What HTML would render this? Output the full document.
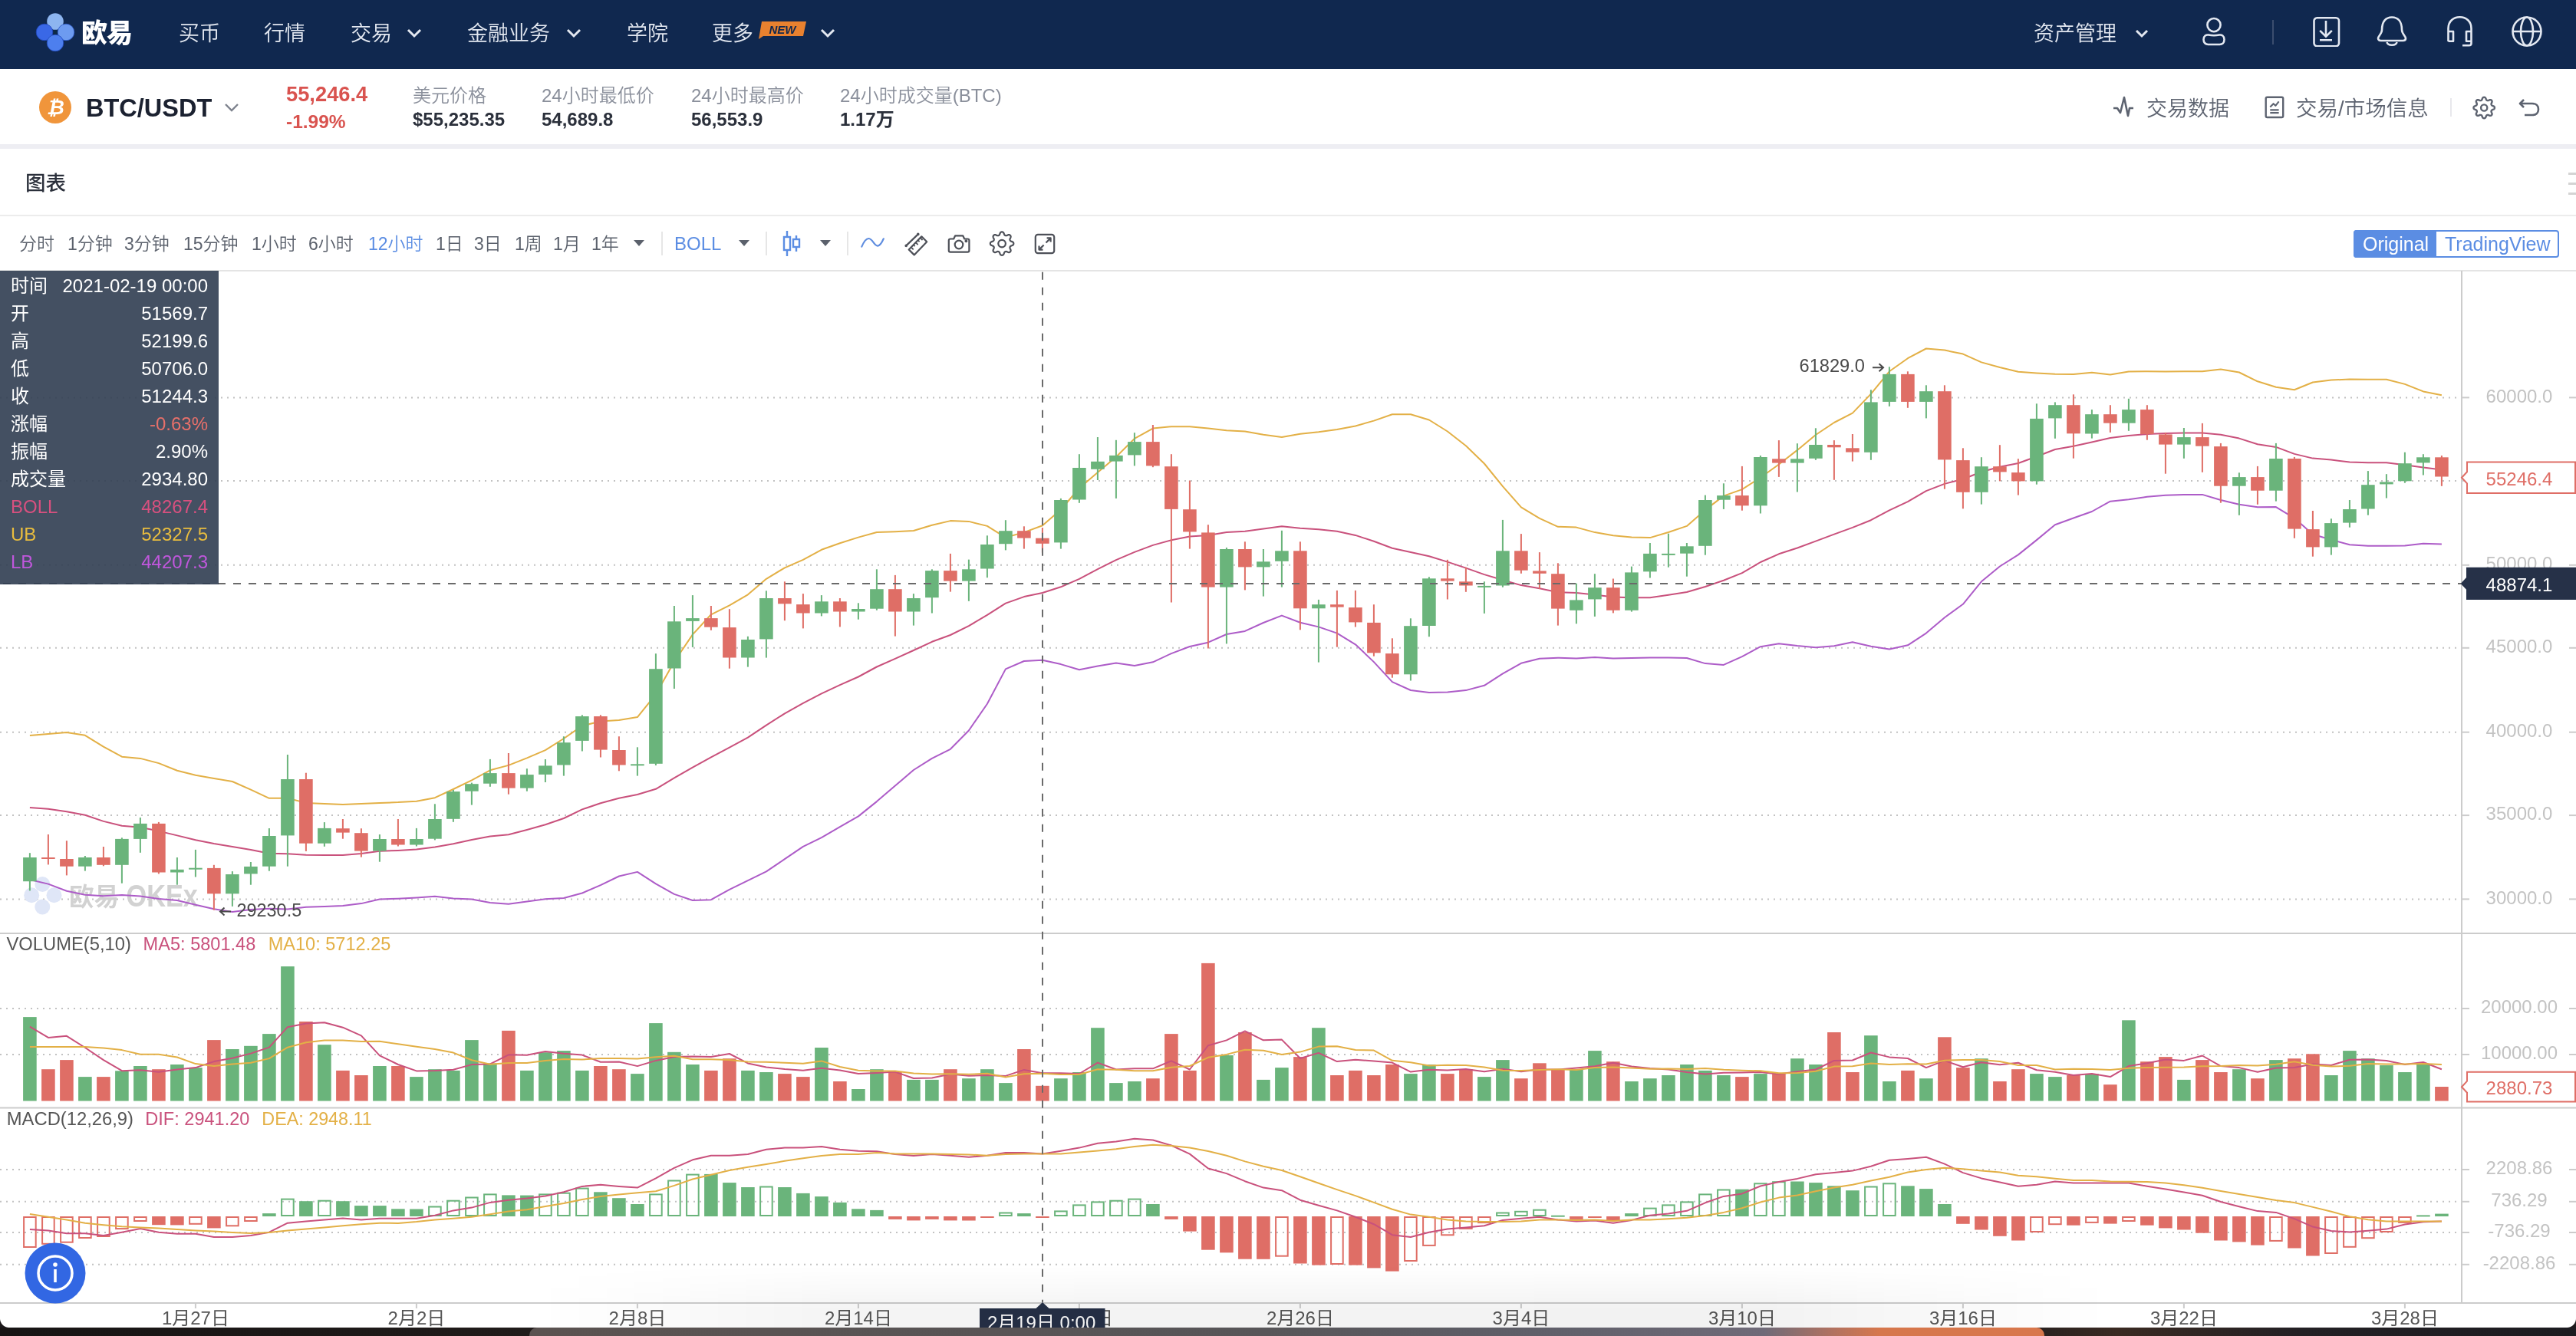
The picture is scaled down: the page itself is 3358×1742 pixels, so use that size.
<!DOCTYPE html>
<html lang="zh-CN">
<head>
<meta charset="utf-8">
<title>BTC/USDT 图表 - 欧易</title>
<style>
*{margin:0;padding:0;box-sizing:border-box}
html,body{width:3358px;height:1742px;overflow:hidden;background:#fff}
body{will-change:transform;position:relative;font-family:"Liberation Sans","Noto Sans CJK SC",sans-serif;color:#333}
.a{position:absolute;white-space:nowrap}
#nav{position:absolute;left:0;top:0;width:3358px;height:90px;background:#10284f}
.nv{position:absolute;top:25.5px;font-size:27px;line-height:36px;color:#e3e8f1;font-weight:350}
.chev{position:absolute}
#tick{position:absolute;left:0;top:90px;width:3358px;height:98px;background:#fff}
#sep{position:absolute;left:0;top:188px;width:3358px;height:6px;background:#eeeef3}
.lbl{font-size:24px;line-height:28px;color:#8a8f9b;font-weight:350}
.val{font-size:24px;line-height:28px;color:#2b303b;font-weight:bold}
.tb{position:absolute;top:302px;font-size:23px;line-height:32px;color:#5b616c;font-weight:350}
#info{position:absolute;left:0;top:353px;width:285px;height:409px;background:rgba(48,61,81,0.9)}
.ir{position:absolute;left:14px;width:257px;font-size:24px;line-height:28px;color:#fff}
.ir span{position:absolute;right:0;top:0}
#chart{position:absolute;left:0;top:0}
@media (max-width:2000px){html{zoom:0.5}}
</style>
</head>
<body>
<!-- top navigation -->
<div id="nav">
  <svg class="a" style="left:44px;top:14px" width="56" height="62" viewBox="0 0 56 62">
    <circle cx="28" cy="14" r="10.8" fill="#8db5f0"/>
    <circle cx="14" cy="28" r="10.8" fill="#3a68e6" stroke="#1d45b8" stroke-width="0.8"/>
    <circle cx="42" cy="28" r="10.8" fill="#6d9bf0" stroke="#2a55c4" stroke-width="0.8"/>
    <circle cx="28" cy="42" r="10.8" fill="#4d7fee" stroke="#1d45b8" stroke-width="0.8"/>
    <rect x="25.8" y="25.8" width="4.4" height="4.4" fill="#0d2a44"/>
  </svg>
  <div class="a" style="left:106px;top:19px;font-size:34px;line-height:48px;font-weight:900;color:#fff;letter-spacing:-1px">欧易</div>
  <div class="nv" style="left:233px">买币</div>
  <div class="nv" style="left:344px">行情</div>
  <div class="nv" style="left:457px">交易</div>
  <svg class="chev" style="left:529px;top:36px" width="22" height="14" viewBox="0 0 22 14"><path d="M3 3 L11 11 L19 3" fill="none" stroke="#e3e8f1" stroke-width="3"/></svg>
  <div class="nv" style="left:609px">金融业务</div>
  <svg class="chev" style="left:737px;top:36px" width="22" height="14" viewBox="0 0 22 14"><path d="M3 3 L11 11 L19 3" fill="none" stroke="#e3e8f1" stroke-width="3"/></svg>
  <div class="nv" style="left:817px">学院</div>
  <div class="nv" style="left:928px">更多</div>
  <svg class="a" style="left:987px;top:27px" width="66" height="25" viewBox="0 0 66 25">
    <path d="M6 1 H64 L60 20 H8 L2 24 Z" fill="#e8812f"/>
    <text x="33" y="17" text-anchor="middle" font-family="Liberation Sans, sans-serif" font-size="15" font-weight="bold" font-style="italic" fill="#10284f">NEW</text>
  </svg>
  <svg class="chev" style="left:1068px;top:36px" width="22" height="14" viewBox="0 0 22 14"><path d="M3 3 L11 11 L19 3" fill="none" stroke="#e3e8f1" stroke-width="3"/></svg>

  <div class="nv" style="left:2651px">资产管理</div>
  <svg class="chev" style="left:2783px;top:38px" width="18" height="12" viewBox="0 0 18 12"><path d="M2 2 L9 9 L16 2" fill="none" stroke="#e3e8f1" stroke-width="3"/></svg>
  <!-- user -->
  <svg class="a" style="left:2868px;top:22px" width="36" height="40" viewBox="0 0 36 40" fill="none" stroke="#e3e8f1" stroke-width="2.6">
    <circle cx="18" cy="10.6" r="8.6"/>
    <path d="M4.5 29.5 C4.5 24.5 8 23 11 23.6 C15 24.4 21 24.4 25 23.6 C28 23 31.5 24.5 31.5 29.5 C31.5 33.5 29 36 25.5 36 H10.5 C7 36 4.5 33.5 4.5 29.5 Z"/>
  </svg>
  <div class="a" style="left:2962px;top:26px;width:2px;height:32px;background:#3b4d6e"></div>
  <!-- download -->
  <svg class="a" style="left:3014px;top:21px" width="38" height="40" viewBox="0 0 38 40" fill="none" stroke="#e3e8f1" stroke-width="2.6">
    <rect x="2.5" y="2.3" width="32.5" height="37" rx="4"/>
    <path d="M18 6 V26.5 M10.2 18.9 L18 26.6 L25.8 18.9 M10 31.3 H26"/>
  </svg>
  <!-- bell -->
  <svg class="a" style="left:3096px;top:19px" width="44" height="44" viewBox="0 0 44 44" fill="none" stroke="#e3e8f1" stroke-width="2.6" stroke-linejoin="round">
    <path d="M9 20 C9 9 14 3.5 22 3.5 C30 3.5 35 9 35 20 C35 25 40 28 40 31 C40 33 38.5 34 36.5 34 H7.5 C5.5 34 4 33 4 31 C4 28 9 25 9 20 Z"/>
    <path d="M15.5 36 C16.5 41 27.5 41 28.5 36"/>
  </svg>
  <!-- headset -->
  <svg class="a" style="left:3186px;top:19px" width="42" height="44" viewBox="0 0 42 44" fill="none" stroke="#e3e8f1" stroke-width="2.6" stroke-linejoin="round">
    <path d="M5.5 35 V18 C5.5 9 12 3.3 20.5 3.3 C29 3.3 35.5 9 35.5 18 V37.5 C35.5 39.3 34.3 40.3 32.5 40.3 H24"/>
    <path d="M5.5 22 H12 V34.7 H5.5 M35.5 22 H29 V34.7 H35.5"/>
  </svg>
  <!-- globe -->
  <svg class="a" style="left:3273px;top:20px" width="42" height="42" viewBox="0 0 42 42" fill="none" stroke="#e3e8f1" stroke-width="2.6">
    <circle cx="21" cy="21" r="18.5"/>
    <ellipse cx="21" cy="21" rx="8" ry="18.5"/>
    <path d="M2.5 21 H39.5"/>
  </svg>
</div>

<!-- ticker bar -->
<div id="tick">
  <svg class="a" style="left:50px;top:28px" width="44" height="44" viewBox="0 0 44 44">
    <circle cx="22" cy="22" r="21" fill="#f0953b"/>
    <text x="22.5" y="31" text-anchor="middle" font-family="Liberation Sans, sans-serif" font-size="26" font-weight="bold" font-style="italic" fill="#fff">₿</text>
  </svg>
  <div class="a" style="left:112px;top:31px;font-size:32.5px;line-height:40px;font-weight:bold;color:#1b2130">BTC/USDT</div>
  <svg class="a" style="left:291px;top:43px" width="22" height="14" viewBox="0 0 22 14"><path d="M3 3 L11 11 L19 3" fill="none" stroke="#7d828d" stroke-width="2.4"/></svg>
  <div class="a" style="left:373px;top:18px;font-size:27.3px;line-height:30px;font-weight:bold;color:#d9534f">55,246.4</div>
  <div class="a" style="left:373px;top:55px;font-size:24.5px;line-height:28px;font-weight:bold;color:#d9534f">-1.99%</div>
  <div class="a lbl" style="left:538px;top:21px">美元价格</div>
  <div class="a val" style="left:538px;top:52px">$55,235.35</div>
  <div class="a lbl" style="left:706px;top:21px">24小时最低价</div>
  <div class="a val" style="left:706px;top:52px">54,689.8</div>
  <div class="a lbl" style="left:901px;top:21px">24小时最高价</div>
  <div class="a val" style="left:901px;top:52px">56,553.9</div>
  <div class="a lbl" style="left:1095px;top:21px">24小时成交量(BTC)</div>
  <div class="a val" style="left:1095px;top:52px">1.17万</div>

  <svg class="a" style="left:2754px;top:35px" width="28" height="28" viewBox="0 0 28 28" fill="none" stroke="#5d6370" stroke-width="2.6" stroke-linejoin="round"><path d="M1 16 H6 L10 22 L15 2 L20 26 L22 16 H27"/></svg>
  <div class="a" style="left:2798px;top:36px;font-size:27px;line-height:32px;color:#5d6370;font-weight:350">交易数据</div>

  <svg class="a" style="left:2900px;top:0" width="420" height="98" viewBox="2900 90 420 98" fill="none" stroke="#5d6370" stroke-width="2.4" stroke-linejoin="round">
    <rect x="2953.7" y="126.8" width="22.5" height="26.2" rx="1.8"/>
    <path d="M2959.3,139.6 L2963.6,135.2 L2966.3,137.8 L2970.6,132.4 M2959.3,143.4 H2970.6 M2959.3,147.1 H2970.6" stroke-width="2.1"/>
    <path d="M3247.72,144.44 L3247.62,144.70 L3247.56,144.96 L3247.53,145.25 L3247.55,145.58 L3247.64,145.95 L3247.81,146.39 L3248.05,146.90 L3248.30,147.44 L3248.49,147.98 L3248.59,148.47 L3248.58,148.91 L3248.49,149.29 L3248.33,149.62 L3248.13,149.92 L3247.89,150.19 L3247.62,150.43 L3247.32,150.63 L3246.99,150.79 L3246.61,150.88 L3246.17,150.89 L3245.68,150.79 L3245.14,150.60 L3244.60,150.35 L3244.09,150.11 L3243.65,149.94 L3243.28,149.85 L3242.95,149.83 L3242.66,149.86 L3242.40,149.92 L3242.14,150.02 L3241.90,150.13 L3241.66,150.28 L3241.44,150.46 L3241.22,150.70 L3241.02,151.03 L3240.83,151.47 L3240.64,151.99 L3240.43,152.55 L3240.19,153.07 L3239.91,153.48 L3239.60,153.78 L3239.26,153.99 L3238.91,154.11 L3238.56,154.18 L3238.20,154.20 L3237.84,154.18 L3237.49,154.11 L3237.14,153.99 L3236.80,153.78 L3236.49,153.48 L3236.21,153.07 L3235.97,152.55 L3235.76,151.99 L3235.57,151.47 L3235.38,151.03 L3235.18,150.70 L3234.96,150.46 L3234.74,150.28 L3234.50,150.13 L3234.26,150.02 L3234.00,149.92 L3233.74,149.86 L3233.45,149.83 L3233.12,149.85 L3232.75,149.94 L3232.31,150.11 L3231.80,150.35 L3231.26,150.60 L3230.72,150.79 L3230.23,150.89 L3229.79,150.88 L3229.41,150.79 L3229.08,150.63 L3228.78,150.43 L3228.51,150.19 L3228.27,149.92 L3228.07,149.62 L3227.91,149.29 L3227.82,148.91 L3227.81,148.47 L3227.91,147.98 L3228.10,147.44 L3228.35,146.90 L3228.59,146.39 L3228.76,145.95 L3228.85,145.58 L3228.87,145.25 L3228.84,144.96 L3228.78,144.70 L3228.68,144.44 L3228.57,144.20 L3228.42,143.96 L3228.24,143.74 L3228.00,143.52 L3227.67,143.32 L3227.23,143.13 L3226.71,142.94 L3226.15,142.73 L3225.63,142.49 L3225.22,142.21 L3224.92,141.90 L3224.71,141.56 L3224.59,141.21 L3224.52,140.86 L3224.50,140.50 L3224.52,140.14 L3224.59,139.79 L3224.71,139.44 L3224.92,139.10 L3225.22,138.79 L3225.63,138.51 L3226.15,138.27 L3226.71,138.06 L3227.23,137.87 L3227.67,137.68 L3228.00,137.48 L3228.24,137.26 L3228.42,137.04 L3228.57,136.80 L3228.68,136.56 L3228.78,136.30 L3228.84,136.04 L3228.87,135.75 L3228.85,135.42 L3228.76,135.05 L3228.59,134.61 L3228.35,134.10 L3228.10,133.56 L3227.91,133.02 L3227.81,132.53 L3227.82,132.09 L3227.91,131.71 L3228.07,131.38 L3228.27,131.08 L3228.51,130.81 L3228.78,130.57 L3229.08,130.37 L3229.41,130.21 L3229.79,130.12 L3230.23,130.11 L3230.72,130.21 L3231.26,130.40 L3231.80,130.65 L3232.31,130.89 L3232.75,131.06 L3233.12,131.15 L3233.45,131.17 L3233.74,131.14 L3234.00,131.08 L3234.26,130.98 L3234.50,130.87 L3234.74,130.72 L3234.96,130.54 L3235.18,130.30 L3235.38,129.97 L3235.57,129.53 L3235.76,129.01 L3235.97,128.45 L3236.21,127.93 L3236.49,127.52 L3236.80,127.22 L3237.14,127.01 L3237.49,126.89 L3237.84,126.82 L3238.20,126.80 L3238.56,126.82 L3238.91,126.89 L3239.26,127.01 L3239.60,127.22 L3239.91,127.52 L3240.19,127.93 L3240.43,128.45 L3240.64,129.01 L3240.83,129.53 L3241.02,129.97 L3241.22,130.30 L3241.44,130.54 L3241.66,130.72 L3241.90,130.87 L3242.14,130.98 L3242.40,131.08 L3242.66,131.14 L3242.95,131.17 L3243.28,131.15 L3243.65,131.06 L3244.09,130.89 L3244.60,130.65 L3245.14,130.40 L3245.68,130.21 L3246.17,130.11 L3246.61,130.12 L3246.99,130.21 L3247.32,130.37 L3247.62,130.57 L3247.89,130.81 L3248.13,131.08 L3248.33,131.38 L3248.49,131.71 L3248.58,132.09 L3248.59,132.53 L3248.49,133.02 L3248.30,133.56 L3248.05,134.10 L3247.81,134.61 L3247.64,135.05 L3247.55,135.42 L3247.53,135.75 L3247.56,136.04 L3247.62,136.30 L3247.72,136.56 L3247.83,136.80 L3247.98,137.04 L3248.16,137.26 L3248.40,137.48 L3248.73,137.68 L3249.17,137.87 L3249.69,138.06 L3250.25,138.27 L3250.77,138.51 L3251.18,138.79 L3251.48,139.10 L3251.69,139.44 L3251.81,139.79 L3251.88,140.14 L3251.90,140.50 L3251.88,140.86 L3251.81,141.21 L3251.69,141.56 L3251.48,141.90 L3251.18,142.21 L3250.77,142.49 L3250.25,142.73 L3249.69,142.94 L3249.17,143.13 L3248.73,143.32 L3248.40,143.52 L3248.16,143.74 L3247.98,143.96 L3247.83,144.20 Z"/>
    <circle cx="3238.2" cy="140.5" r="4.1"/>
  </svg>
  <div class="a" style="left:2993px;top:36px;font-size:27.5px;line-height:32px;color:#5d6370;font-weight:350">交易/市场信息</div>
  <div class="a" style="left:3194px;top:38px;width:2px;height:24px;background:#e8e8ec"></div>
  
  <svg class="a" style="left:3283px;top:38px" width="28" height="24" viewBox="0 0 28 24" fill="none" stroke="#5d6370" stroke-width="2.6" stroke-linejoin="round"><path d="M7 2 L2 7 L7 12 M2 7 H18 C23 7 26 10 26 14.5 C26 19 23 22 18 22 H8"/></svg>
</div>
<div id="sep"></div>

<!-- title -->
<div class="a" style="left:33px;top:222px;font-size:26.5px;line-height:34px;color:#2b303b;font-weight:500">图表</div>
<div class="a" style="left:3348px;top:225px;width:10px;height:3px;background:#d4d4d4"></div>
<div class="a" style="left:3348px;top:238px;width:10px;height:3px;background:#d4d4d4"></div>
<div class="a" style="left:3348px;top:251px;width:10px;height:3px;background:#d4d4d4"></div>
<div class="a" style="left:0;top:280px;width:3358px;height:2px;background:#ececec"></div>

<!-- toolbar -->
<div class="tb" style="left:25px">分时</div>
<div class="tb" style="left:88px">1分钟</div>
<div class="tb" style="left:162px">3分钟</div>
<div class="tb" style="left:239px">15分钟</div>
<div class="tb" style="left:328px">1小时</div>
<div class="tb" style="left:402px">6小时</div>
<div class="tb" style="left:480px;color:#5b8de3">12小时</div>
<div class="tb" style="left:568px">1日</div>
<div class="tb" style="left:618px">3日</div>
<div class="tb" style="left:671px">1周</div>
<div class="tb" style="left:721px">1月</div>
<div class="tb" style="left:771px">1年</div>
<svg class="a" style="left:826px;top:313px" width="14" height="9" viewBox="0 0 14 9"><path d="M0 0 H14 L7 8 Z" fill="#5b616c"/></svg>
<div class="a" style="left:862px;top:302px;width:2px;height:31px;background:#e6e6e6"></div>
<div class="tb" style="left:879px;font-size:24px;color:#5b8de3">BOLL</div>
<svg class="a" style="left:963px;top:313px" width="14" height="9" viewBox="0 0 14 9"><path d="M0 0 H14 L7 8 Z" fill="#5b616c"/></svg>
<div class="a" style="left:998px;top:302px;width:2px;height:31px;background:#e6e6e6"></div>
<svg class="a" style="left:1020px;top:301px" width="24" height="33" viewBox="0 0 24 33" fill="none" stroke="#5b8de3" stroke-width="2.4">
  <path d="M6 0 V33 M18 6 V27"/><rect x="2" y="8" width="8" height="17" fill="#fff"/><rect x="14" y="11" width="8" height="10" fill="#fff"/>
</svg>
<svg class="a" style="left:1069px;top:313px" width="14" height="9" viewBox="0 0 14 9"><path d="M0 0 H14 L7 8 Z" fill="#5b616c"/></svg>
<div class="a" style="left:1104px;top:302px;width:2px;height:31px;background:#e6e6e6"></div>
<svg class="a" style="left:0;top:0" width="1400" height="360" viewBox="0 0 1400 360">
  <path d="M1123.3,321.7 C1126.5,314 1129.5,310.8 1132.6,311 C1137.5,311.3 1139.5,320.8 1144.2,320.6 C1147.5,320.5 1149.5,316.5 1151.8,311.3" fill="none" stroke="#5f8ddf" stroke-width="2.2" stroke-linecap="round"/>
  <g fill="none" stroke="#4d5058" stroke-width="2.2" stroke-linejoin="round">
    <path d="M1181.2,320.4 L1196.8,305.4"/>
    <circle cx="1181.2" cy="320.4" r="0.7" fill="#4d5058"/><circle cx="1196.8" cy="305.4" r="0.7" fill="#4d5058"/>
    <path d="M1184.7,325.4 L1191.7,332.4 L1208.2,315.3 L1201.3,308.3 Z"/>
    <path d="M1187.7,322.3 L1190.7,325.3 M1190.7,319.2 L1192.7,321.2 M1193.7,316.2 L1196.6,319.1 M1196.7,313.1 L1198.6,315.1 M1199.6,310.0 L1202.6,313.0" stroke-width="1.8"/>
    <path d="M1239,311.5 H1243.2 L1245.2,307.3 H1255.2 L1257.2,311.5 H1261.3 C1262.6,311.5 1263.4,312.3 1263.4,313.6 V326.6 C1263.4,327.9 1262.6,328.7 1261.3,328.7 H1238.9 C1237.6,328.7 1236.8,327.9 1236.8,326.6 V313.6 C1236.8,312.3 1237.6,311.5 1239,311.5 Z"/>
    <circle cx="1250" cy="319" r="5.3"/>
    <circle cx="1259.4" cy="314.3" r="0.9" fill="#4d5058"/>
    <path d="M1316.63,321.96 L1316.53,322.24 L1316.46,322.54 L1316.43,322.86 L1316.45,323.22 L1316.56,323.64 L1316.75,324.13 L1317.02,324.69 L1317.30,325.29 L1317.51,325.89 L1317.62,326.44 L1317.62,326.92 L1317.51,327.35 L1317.34,327.72 L1317.11,328.05 L1316.85,328.35 L1316.55,328.61 L1316.22,328.84 L1315.85,329.01 L1315.42,329.12 L1314.94,329.12 L1314.39,329.01 L1313.79,328.80 L1313.19,328.52 L1312.63,328.25 L1312.14,328.06 L1311.72,327.95 L1311.36,327.93 L1311.04,327.96 L1310.74,328.03 L1310.46,328.13 L1310.19,328.26 L1309.93,328.42 L1309.68,328.63 L1309.45,328.90 L1309.23,329.26 L1309.02,329.75 L1308.81,330.33 L1308.58,330.96 L1308.31,331.53 L1308.00,332.00 L1307.65,332.34 L1307.28,332.56 L1306.89,332.70 L1306.50,332.78 L1306.10,332.80 L1305.70,332.78 L1305.31,332.70 L1304.92,332.56 L1304.55,332.34 L1304.20,332.00 L1303.89,331.53 L1303.62,330.96 L1303.39,330.33 L1303.18,329.75 L1302.97,329.26 L1302.75,328.90 L1302.52,328.63 L1302.27,328.42 L1302.01,328.26 L1301.74,328.13 L1301.46,328.03 L1301.16,327.96 L1300.84,327.93 L1300.48,327.95 L1300.06,328.06 L1299.57,328.25 L1299.01,328.52 L1298.41,328.80 L1297.81,329.01 L1297.26,329.12 L1296.78,329.12 L1296.35,329.01 L1295.98,328.84 L1295.65,328.61 L1295.35,328.35 L1295.09,328.05 L1294.86,327.72 L1294.69,327.35 L1294.58,326.92 L1294.58,326.44 L1294.69,325.89 L1294.90,325.29 L1295.18,324.69 L1295.45,324.13 L1295.64,323.64 L1295.75,323.22 L1295.77,322.86 L1295.74,322.54 L1295.67,322.24 L1295.57,321.96 L1295.44,321.69 L1295.28,321.43 L1295.07,321.18 L1294.80,320.95 L1294.44,320.73 L1293.95,320.52 L1293.37,320.31 L1292.74,320.08 L1292.17,319.81 L1291.70,319.50 L1291.36,319.15 L1291.14,318.78 L1291.00,318.39 L1290.92,318.00 L1290.90,317.60 L1290.92,317.20 L1291.00,316.81 L1291.14,316.42 L1291.36,316.05 L1291.70,315.70 L1292.17,315.39 L1292.74,315.12 L1293.37,314.89 L1293.95,314.68 L1294.44,314.47 L1294.80,314.25 L1295.07,314.02 L1295.28,313.77 L1295.44,313.51 L1295.57,313.24 L1295.67,312.96 L1295.74,312.66 L1295.77,312.34 L1295.75,311.98 L1295.64,311.56 L1295.45,311.07 L1295.18,310.51 L1294.90,309.91 L1294.69,309.31 L1294.58,308.76 L1294.58,308.28 L1294.69,307.85 L1294.86,307.48 L1295.09,307.15 L1295.35,306.85 L1295.65,306.59 L1295.98,306.36 L1296.35,306.19 L1296.78,306.08 L1297.26,306.08 L1297.81,306.19 L1298.41,306.40 L1299.01,306.68 L1299.57,306.95 L1300.06,307.14 L1300.48,307.25 L1300.84,307.27 L1301.16,307.24 L1301.46,307.17 L1301.74,307.07 L1302.01,306.94 L1302.27,306.78 L1302.52,306.57 L1302.75,306.30 L1302.97,305.94 L1303.18,305.45 L1303.39,304.87 L1303.62,304.24 L1303.89,303.67 L1304.20,303.20 L1304.55,302.86 L1304.92,302.64 L1305.31,302.50 L1305.70,302.42 L1306.10,302.40 L1306.50,302.42 L1306.89,302.50 L1307.28,302.64 L1307.65,302.86 L1308.00,303.20 L1308.31,303.67 L1308.58,304.24 L1308.81,304.87 L1309.02,305.45 L1309.23,305.94 L1309.45,306.30 L1309.68,306.57 L1309.93,306.78 L1310.19,306.94 L1310.46,307.07 L1310.74,307.17 L1311.04,307.24 L1311.36,307.27 L1311.72,307.25 L1312.14,307.14 L1312.63,306.95 L1313.19,306.68 L1313.79,306.40 L1314.39,306.19 L1314.94,306.08 L1315.42,306.08 L1315.85,306.19 L1316.22,306.36 L1316.55,306.59 L1316.85,306.85 L1317.11,307.15 L1317.34,307.48 L1317.51,307.85 L1317.62,308.28 L1317.62,308.76 L1317.51,309.31 L1317.30,309.91 L1317.02,310.51 L1316.75,311.07 L1316.56,311.56 L1316.45,311.98 L1316.43,312.34 L1316.46,312.66 L1316.53,312.96 L1316.63,313.24 L1316.76,313.51 L1316.92,313.77 L1317.13,314.02 L1317.40,314.25 L1317.76,314.47 L1318.25,314.68 L1318.83,314.89 L1319.46,315.12 L1320.03,315.39 L1320.50,315.70 L1320.84,316.05 L1321.06,316.42 L1321.20,316.81 L1321.28,317.20 L1321.30,317.60 L1321.28,318.00 L1321.20,318.39 L1321.06,318.78 L1320.84,319.15 L1320.50,319.50 L1320.03,319.81 L1319.46,320.08 L1318.83,320.31 L1318.25,320.52 L1317.76,320.73 L1317.40,320.95 L1317.13,321.18 L1316.92,321.43 L1316.76,321.69 Z"/>
    <circle cx="1306.1" cy="317.6" r="4.8"/>
    <rect x="1349.8" y="305.8" width="24.4" height="24.4" rx="3.2"/>
    <path d="M1354.5,325.6 L1360.6,319.5 M1363.5,316.6 L1369.6,310.4 M1364.6,310.4 H1369.6 V315.4 M1354.5,320.6 V325.6 H1359.5"/>
  </g>
</svg>
<!-- Original / TradingView -->
<div class="a" style="left:3068px;top:300px;width:268px;height:36px;border:2px solid #5b8de3;border-radius:4px;background:#fff"></div>
<div class="a" style="left:3068px;top:300px;width:108px;height:36px;background:#5b8de3;border-radius:4px 0 0 4px"></div>
<div class="a" style="left:3080px;top:303px;font-size:25px;line-height:30px;color:#fff">Original</div>
<div class="a" style="left:3187px;top:303px;font-size:25px;line-height:30px;color:#5b8de3">TradingView</div>
<div class="a" style="left:0;top:352px;width:3358px;height:2px;background:#e4e4e4"></div>

<svg id="chart" width="3358" height="1742" viewBox="0 0 3358 1742">
<line x1="0" y1="518.4" x2="3205" y2="518.4" stroke="#c2c2c2" stroke-width="2" stroke-dasharray="2 6"/>
<line x1="0" y1="626.9" x2="3205" y2="626.9" stroke="#c2c2c2" stroke-width="2" stroke-dasharray="2 6"/>
<line x1="0" y1="736.8" x2="3205" y2="736.8" stroke="#c2c2c2" stroke-width="2" stroke-dasharray="2 6"/>
<line x1="0" y1="844.8" x2="3205" y2="844.8" stroke="#c2c2c2" stroke-width="2" stroke-dasharray="2 6"/>
<line x1="0" y1="954.7" x2="3205" y2="954.7" stroke="#c2c2c2" stroke-width="2" stroke-dasharray="2 6"/>
<line x1="0" y1="1063.1" x2="3205" y2="1063.1" stroke="#c2c2c2" stroke-width="2" stroke-dasharray="2 6"/>
<line x1="0" y1="1172.4" x2="3205" y2="1172.4" stroke="#c2c2c2" stroke-width="2" stroke-dasharray="2 6"/>
<line x1="0" y1="1315" x2="3205" y2="1315" stroke="#c2c2c2" stroke-width="2" stroke-dasharray="2 6"/>
<line x1="0" y1="1375" x2="3205" y2="1375" stroke="#c2c2c2" stroke-width="2" stroke-dasharray="2 6"/>
<line x1="0" y1="1525" x2="3205" y2="1525" stroke="#c2c2c2" stroke-width="2" stroke-dasharray="2 6"/>
<line x1="0" y1="1566.8" x2="3205" y2="1566.8" stroke="#c2c2c2" stroke-width="2" stroke-dasharray="2 6"/>
<line x1="0" y1="1607" x2="3205" y2="1607" stroke="#c2c2c2" stroke-width="2" stroke-dasharray="2 6"/>
<line x1="0" y1="1648.8" x2="3205" y2="1648.8" stroke="#c2c2c2" stroke-width="2" stroke-dasharray="2 6"/>
<g opacity="1">
<circle cx="55.3" cy="1153" r="10" fill="#dfe6f7"/>
<circle cx="41.2" cy="1167.3" r="10" fill="#dfe6f7"/>
<circle cx="70.5" cy="1167.3" r="10" fill="#dfe6f7"/>
<circle cx="55.3" cy="1182.5" r="10" fill="#dfe6f7"/>
<text x="90" y="1181" font-family='"Liberation Sans", "Noto Sans CJK SC", sans-serif' font-size="33" font-weight="bold" fill="#d2d2d2" textLength="65" lengthAdjust="spacingAndGlyphs">欧易</text>
<text x="164.5" y="1182" font-family='"Liberation Sans", "Noto Sans CJK SC", sans-serif' font-size="40" font-weight="bold" fill="#d2d2d2" textLength="93.4" lengthAdjust="spacingAndGlyphs">OKEx</text>
</g>
<polyline points="38.9,959 62.9,957 86.9,954.9 110.9,958.8 134.9,973.6 158.9,986.7 182.9,988.9 206.9,995.1 230.9,1004.8 254.9,1010.8 278.9,1014.9 302.9,1019 326.9,1029.7 350.9,1040.8 374.9,1040.8 398.9,1046.9 422.9,1047.9 446.9,1048.9 470.9,1047.9 494.9,1046.9 518.9,1046.1 542.9,1044.7 566.9,1040.2 590.9,1029 614.9,1017.3 638.9,1004.3 662.9,997.9 686.9,988.4 710.9,978.1 734.9,963 758.9,946.4 782.9,940.5 806.9,938.9 830.9,935.1 854.9,905.3 878.9,862.8 902.9,827.4 926.9,801.3 950.9,789.4 974.9,775.3 998.9,754.8 1022.9,740.3 1046.9,729.8 1070.9,716.8 1094.9,708.2 1118.9,700.6 1142.9,694 1166.9,693.2 1190.9,692 1214.9,684.8 1238.9,679.1 1262.9,679.9 1286.9,685.9 1310.9,700.8 1334.9,694.1 1358.9,685.3 1382.9,664.5 1406.9,636.5 1430.9,615.9 1454.9,595.7 1478.9,571.9 1502.9,558.6 1526.9,556.2 1550.9,556.3 1574.9,558.4 1598.9,561.2 1622.9,562.4 1646.9,566.8 1670.9,570 1694.9,565.8 1718.9,563.3 1742.9,560 1766.9,555.5 1790.9,548.6 1814.9,540.3 1838.9,540.2 1862.9,547.5 1886.9,562.5 1910.9,581.2 1934.9,604.5 1958.9,634.1 1982.9,661.4 2006.9,675.9 2030.9,686.8 2054.9,687.6 2078.9,694.1 2102.9,698.3 2126.9,700.4 2150.9,701.1 2174.9,694 2198.9,685.9 2222.9,664.9 2246.9,646.6 2270.9,638.1 2294.9,622.7 2318.9,605.5 2342.9,586.9 2366.9,567 2390.9,551 2414.9,538.6 2438.9,513.6 2462.9,484.3 2486.9,467.2 2510.9,454.5 2534.9,456.6 2558.9,461.6 2582.9,472.4 2606.9,479 2630.9,484.7 2654.9,486.4 2678.9,487.8 2702.9,487.9 2726.9,485.8 2750.9,488.4 2774.9,484.6 2798.9,484.3 2822.9,484.5 2846.9,484.2 2870.9,484.2 2894.9,481.5 2918.9,485.5 2942.9,497.3 2966.9,504.7 2990.9,508.2 3014.9,498.5 3038.9,495.5 3062.9,494.6 3086.9,494.8 3110.9,494.8 3134.9,500.9 3158.9,510.4 3182.9,515.2" fill="none" stroke="#e3b046" stroke-width="2" stroke-linejoin="round"/>
<polyline points="38.9,1053 62.9,1054.8 86.9,1058.3 110.9,1062.8 134.9,1070.9 158.9,1076.8 182.9,1078.7 206.9,1083.6 230.9,1089.4 254.9,1095.3 278.9,1100.1 302.9,1104 326.9,1107.9 350.9,1112.8 374.9,1113.2 398.9,1114.8 422.9,1115 446.9,1115 470.9,1113 494.9,1109.7 518.9,1108.9 542.9,1107.6 566.9,1104.5 590.9,1100.2 614.9,1094.9 638.9,1090.6 662.9,1088.3 686.9,1082 710.9,1075.2 734.9,1067 758.9,1055.4 782.9,1047.3 806.9,1040.7 830.9,1036 854.9,1028.8 878.9,1014.4 902.9,1000.7 926.9,987.3 950.9,974.7 974.9,961.7 998.9,945.6 1022.9,930.3 1046.9,916.8 1070.9,904.4 1094.9,893.2 1118.9,882.5 1142.9,869.5 1166.9,858.9 1190.9,848 1214.9,836.8 1238.9,828 1262.9,816.2 1286.9,801.8 1310.9,786.6 1334.9,778.1 1358.9,773 1382.9,765.3 1406.9,754.9 1430.9,742.1 1454.9,730.1 1478.9,719.9 1502.9,710.9 1526.9,704.2 1550.9,699.6 1574.9,698 1598.9,694.1 1622.9,692.7 1646.9,689.4 1670.9,686.3 1694.9,688.8 1718.9,690.3 1742.9,692.8 1766.9,697.9 1790.9,705.8 1814.9,714.7 1838.9,720.1 1862.9,725.2 1886.9,732.6 1910.9,740.6 1934.9,749.1 1958.9,756.3 1982.9,763.1 2006.9,767.3 2030.9,772.3 2054.9,773.1 2078.9,775.6 2102.9,778.5 2126.9,779.2 2150.9,779.3 2174.9,775.8 2198.9,772 2222.9,765 2246.9,756.7 2270.9,747.1 2294.9,733 2318.9,722.3 2342.9,714.5 2366.9,705.6 2390.9,696.6 2414.9,687.9 2438.9,678.2 2462.9,665.4 2486.9,654.2 2510.9,640.1 2534.9,630.9 2558.9,624.7 2582.9,615.3 2606.9,608.8 2630.9,604 2654.9,595.2 2678.9,586 2702.9,581.7 2726.9,576.4 2750.9,571 2774.9,567.9 2798.9,566.1 2822.9,565.1 2846.9,564.6 2870.9,564.5 2894.9,566.8 2918.9,571.6 2942.9,579.2 2966.9,582.9 2990.9,591.9 3014.9,597.6 3038.9,599.6 3062.9,602.4 3086.9,603.2 3110.9,603.3 3134.9,606.2 3158.9,609.6 3182.9,612.4" fill="none" stroke="#c9517c" stroke-width="2" stroke-linejoin="round"/>
<polyline points="38.9,1147 62.9,1152.6 86.9,1161.7 110.9,1166.8 134.9,1168.2 158.9,1166.9 182.9,1168.5 206.9,1172.1 230.9,1174 254.9,1179.8 278.9,1185.3 302.9,1189 326.9,1186.1 350.9,1184.8 374.9,1185.6 398.9,1182.7 422.9,1182.1 446.9,1181.1 470.9,1178.1 494.9,1172.5 518.9,1171.7 542.9,1170.5 566.9,1168.8 590.9,1171.4 614.9,1172.6 638.9,1177 662.9,1178.8 686.9,1175.5 710.9,1172.3 734.9,1171 758.9,1164.5 782.9,1154.1 806.9,1142.5 830.9,1136.9 854.9,1152.4 878.9,1165.9 902.9,1174 926.9,1173.2 950.9,1159.9 974.9,1148.1 998.9,1136.4 1022.9,1120.2 1046.9,1103.8 1070.9,1092.1 1094.9,1078.2 1118.9,1064.4 1142.9,1045.1 1166.9,1024.6 1190.9,1004 1214.9,988.8 1238.9,976.8 1262.9,952.5 1286.9,917.8 1310.9,872.4 1334.9,862 1358.9,860.7 1382.9,866.1 1406.9,873.3 1430.9,868.4 1454.9,864.6 1478.9,867.9 1502.9,863.3 1526.9,852.1 1550.9,843 1574.9,837.7 1598.9,827 1622.9,822.9 1646.9,812 1670.9,802.6 1694.9,811.8 1718.9,817.4 1742.9,825.6 1766.9,840.3 1790.9,863.1 1814.9,889.1 1838.9,900 1862.9,902.9 1886.9,902.6 1910.9,900.1 1934.9,893.8 1958.9,878.4 1982.9,864.8 2006.9,858.7 2030.9,857.7 2054.9,858.6 2078.9,857.1 2102.9,858.6 2126.9,857.9 2150.9,857.6 2174.9,857.6 2198.9,858 2222.9,865.1 2246.9,866.9 2270.9,856.1 2294.9,843.2 2318.9,839.2 2342.9,842.1 2366.9,844.3 2390.9,842.3 2414.9,837.3 2438.9,842.8 2462.9,846.6 2486.9,841.3 2510.9,825.6 2534.9,805.2 2558.9,787.8 2582.9,758.3 2606.9,738.5 2630.9,723.4 2654.9,704.1 2678.9,684.3 2702.9,675.5 2726.9,667 2750.9,653.7 2774.9,651.3 2798.9,647.8 2822.9,645.8 2846.9,645 2870.9,644.9 2894.9,652 2918.9,657.8 2942.9,661.2 2966.9,661.1 2990.9,675.6 3014.9,696.7 3038.9,703.8 3062.9,710.2 3086.9,711.7 3110.9,711.8 3134.9,711.5 3158.9,708.8 3182.9,709.6" fill="none" stroke="#ad5cc8" stroke-width="2" stroke-linejoin="round"/>
<rect x="37.9" y="1112.2" width="2" height="49.2" fill="#6ab47b"/>
<rect x="30.1" y="1118" width="17.6" height="31.2" fill="#6ab47b"/>
<rect x="61.9" y="1088" width="2" height="39.4" fill="#df6e66"/>
<rect x="54.1" y="1118" width="17.6" height="2" fill="#df6e66"/>
<rect x="85.9" y="1096.2" width="2" height="45.2" fill="#df6e66"/>
<rect x="78.1" y="1120" width="17.6" height="9.7" fill="#df6e66"/>
<rect x="109.9" y="1116" width="2" height="19.6" fill="#6ab47b"/>
<rect x="102.1" y="1118" width="17.6" height="11.7" fill="#6ab47b"/>
<rect x="133.9" y="1104" width="2" height="25.3" fill="#df6e66"/>
<rect x="126.1" y="1118" width="17.6" height="9.8" fill="#df6e66"/>
<rect x="157.9" y="1092.3" width="2" height="59.4" fill="#6ab47b"/>
<rect x="150.1" y="1093.9" width="17.6" height="33.9" fill="#6ab47b"/>
<rect x="181.9" y="1066" width="2" height="45.8" fill="#6ab47b"/>
<rect x="174.1" y="1073.9" width="17.6" height="20" fill="#6ab47b"/>
<rect x="205.9" y="1071.9" width="2" height="67.5" fill="#df6e66"/>
<rect x="198.1" y="1073.9" width="17.6" height="63.6" fill="#df6e66"/>
<rect x="229.9" y="1118" width="2" height="35.7" fill="#6ab47b"/>
<rect x="222.1" y="1133.8" width="17.6" height="3.7" fill="#6ab47b"/>
<rect x="253.9" y="1107.9" width="2" height="35.6" fill="#6ab47b"/>
<rect x="246.1" y="1131.7" width="17.6" height="2" fill="#6ab47b"/>
<rect x="277.9" y="1127.8" width="2" height="58.9" fill="#df6e66"/>
<rect x="270.1" y="1131.9" width="17.6" height="33.4" fill="#df6e66"/>
<rect x="301.9" y="1136.1" width="2" height="45.8" fill="#6ab47b"/>
<rect x="294.1" y="1140" width="17.6" height="25.3" fill="#6ab47b"/>
<rect x="325.9" y="1124" width="2" height="29.7" fill="#6ab47b"/>
<rect x="318.1" y="1129.9" width="17.6" height="9.5" fill="#6ab47b"/>
<rect x="349.9" y="1080" width="2" height="55.7" fill="#6ab47b"/>
<rect x="342.1" y="1090" width="17.6" height="39.7" fill="#6ab47b"/>
<rect x="373.9" y="984" width="2" height="145.7" fill="#6ab47b"/>
<rect x="366.1" y="1016" width="17.6" height="73.4" fill="#6ab47b"/>
<rect x="397.9" y="1007.7" width="2" height="102.2" fill="#df6e66"/>
<rect x="390.1" y="1016" width="17.6" height="83.7" fill="#df6e66"/>
<rect x="421.9" y="1072.1" width="2" height="31.7" fill="#6ab47b"/>
<rect x="414.1" y="1079.9" width="17.6" height="19.8" fill="#6ab47b"/>
<rect x="445.9" y="1068" width="2" height="25.7" fill="#df6e66"/>
<rect x="438.1" y="1080.2" width="17.6" height="5.4" fill="#df6e66"/>
<rect x="469.9" y="1080.2" width="2" height="37.4" fill="#df6e66"/>
<rect x="462.1" y="1086.2" width="17.6" height="23.4" fill="#df6e66"/>
<rect x="493.9" y="1088" width="2" height="35.7" fill="#6ab47b"/>
<rect x="486.1" y="1094" width="17.6" height="15.6" fill="#6ab47b"/>
<rect x="517.9" y="1068" width="2" height="35.5" fill="#df6e66"/>
<rect x="510.1" y="1094" width="17.6" height="7.5" fill="#df6e66"/>
<rect x="541.9" y="1079.9" width="2" height="23.6" fill="#6ab47b"/>
<rect x="534.1" y="1094" width="17.6" height="7.5" fill="#6ab47b"/>
<rect x="565.9" y="1048.3" width="2" height="47.1" fill="#6ab47b"/>
<rect x="558.1" y="1068" width="17.6" height="25.7" fill="#6ab47b"/>
<rect x="589.9" y="1030" width="2" height="41.8" fill="#6ab47b"/>
<rect x="582.1" y="1032.1" width="17.6" height="35.7" fill="#6ab47b"/>
<rect x="613.9" y="1020.6" width="2" height="29" fill="#6ab47b"/>
<rect x="606.1" y="1022.2" width="17.6" height="9.5" fill="#6ab47b"/>
<rect x="637.9" y="989.9" width="2" height="35.9" fill="#6ab47b"/>
<rect x="630.1" y="1008.1" width="17.6" height="13.6" fill="#6ab47b"/>
<rect x="661.9" y="982" width="2" height="53.7" fill="#df6e66"/>
<rect x="654.1" y="1008.1" width="17.6" height="19.5" fill="#df6e66"/>
<rect x="685.9" y="1002.2" width="2" height="29.5" fill="#6ab47b"/>
<rect x="678.1" y="1010.1" width="17.6" height="17.5" fill="#6ab47b"/>
<rect x="709.9" y="990" width="2" height="30" fill="#6ab47b"/>
<rect x="702.1" y="998.4" width="17.6" height="11.5" fill="#6ab47b"/>
<rect x="733.9" y="960.2" width="2" height="51.4" fill="#6ab47b"/>
<rect x="726.1" y="968.2" width="17.6" height="29.3" fill="#6ab47b"/>
<rect x="757.9" y="932.3" width="2" height="47.2" fill="#6ab47b"/>
<rect x="750.1" y="934" width="17.6" height="31.9" fill="#6ab47b"/>
<rect x="781.9" y="932.3" width="2" height="55.2" fill="#df6e66"/>
<rect x="774.1" y="934" width="17.6" height="43.6" fill="#df6e66"/>
<rect x="805.9" y="960.2" width="2" height="45.1" fill="#df6e66"/>
<rect x="798.1" y="978" width="17.6" height="19.5" fill="#df6e66"/>
<rect x="829.9" y="974.3" width="2" height="37.3" fill="#6ab47b"/>
<rect x="822.1" y="996.3" width="17.6" height="2" fill="#6ab47b"/>
<rect x="853.9" y="852.2" width="2" height="145.8" fill="#6ab47b"/>
<rect x="846.1" y="872.2" width="17.6" height="123.6" fill="#6ab47b"/>
<rect x="877.9" y="790" width="2" height="108" fill="#6ab47b"/>
<rect x="870.1" y="810.3" width="17.6" height="61.2" fill="#6ab47b"/>
<rect x="901.9" y="776.1" width="2" height="67.8" fill="#6ab47b"/>
<rect x="894.1" y="806.1" width="17.6" height="3.8" fill="#6ab47b"/>
<rect x="925.9" y="790" width="2" height="31.8" fill="#df6e66"/>
<rect x="918.1" y="806.1" width="17.6" height="11.6" fill="#df6e66"/>
<rect x="949.9" y="794.2" width="2" height="77.5" fill="#df6e66"/>
<rect x="942.1" y="818.1" width="17.6" height="39.4" fill="#df6e66"/>
<rect x="973.9" y="829.8" width="2" height="39.8" fill="#6ab47b"/>
<rect x="966.1" y="834" width="17.6" height="23.5" fill="#6ab47b"/>
<rect x="997.9" y="770.3" width="2" height="87.3" fill="#6ab47b"/>
<rect x="990.1" y="780" width="17.6" height="53.4" fill="#6ab47b"/>
<rect x="1021.9" y="758.3" width="2" height="50.9" fill="#df6e66"/>
<rect x="1014.1" y="780" width="17.6" height="7.3" fill="#df6e66"/>
<rect x="1045.9" y="774.1" width="2" height="45.3" fill="#df6e66"/>
<rect x="1038.1" y="788.1" width="17.6" height="11.4" fill="#df6e66"/>
<rect x="1069.9" y="776.1" width="2" height="27.3" fill="#6ab47b"/>
<rect x="1062.1" y="784.3" width="17.6" height="15.2" fill="#6ab47b"/>
<rect x="1093.9" y="780" width="2" height="37.4" fill="#df6e66"/>
<rect x="1086.1" y="784.3" width="17.6" height="13.2" fill="#df6e66"/>
<rect x="1117.9" y="786.3" width="2" height="21.4" fill="#6ab47b"/>
<rect x="1110.1" y="794" width="17.6" height="3.5" fill="#6ab47b"/>
<rect x="1141.9" y="742.3" width="2" height="53.4" fill="#6ab47b"/>
<rect x="1134.1" y="768.2" width="17.6" height="25.5" fill="#6ab47b"/>
<rect x="1165.9" y="749.9" width="2" height="79.7" fill="#df6e66"/>
<rect x="1158.1" y="768.2" width="17.6" height="29.3" fill="#df6e66"/>
<rect x="1189.9" y="774.1" width="2" height="41.5" fill="#6ab47b"/>
<rect x="1182.1" y="780" width="17.6" height="17.5" fill="#6ab47b"/>
<rect x="1213.9" y="742.3" width="2" height="57.2" fill="#6ab47b"/>
<rect x="1206.1" y="744.1" width="17.6" height="35.1" fill="#6ab47b"/>
<rect x="1237.9" y="721.9" width="2" height="49.7" fill="#df6e66"/>
<rect x="1230.1" y="744.1" width="17.6" height="13.5" fill="#df6e66"/>
<rect x="1261.9" y="729.6" width="2" height="54.2" fill="#6ab47b"/>
<rect x="1254.1" y="742.3" width="17.6" height="15.3" fill="#6ab47b"/>
<rect x="1285.9" y="698.3" width="2" height="54.9" fill="#6ab47b"/>
<rect x="1278.1" y="710" width="17.6" height="31.5" fill="#6ab47b"/>
<rect x="1309.9" y="678.2" width="2" height="39.2" fill="#6ab47b"/>
<rect x="1302.1" y="692.2" width="17.6" height="17" fill="#6ab47b"/>
<rect x="1333.9" y="686.3" width="2" height="29.3" fill="#df6e66"/>
<rect x="1326.1" y="692.2" width="17.6" height="9.4" fill="#df6e66"/>
<rect x="1357.9" y="688" width="2" height="32.6" fill="#df6e66"/>
<rect x="1350.1" y="701.7" width="17.6" height="7.1" fill="#df6e66"/>
<rect x="1381.9" y="649.9" width="2" height="65.7" fill="#6ab47b"/>
<rect x="1374.1" y="652" width="17.6" height="55.4" fill="#6ab47b"/>
<rect x="1405.9" y="592.2" width="2" height="63.6" fill="#6ab47b"/>
<rect x="1398.1" y="610" width="17.6" height="41.5" fill="#6ab47b"/>
<rect x="1429.9" y="570" width="2" height="56" fill="#6ab47b"/>
<rect x="1422.1" y="601.8" width="17.6" height="10" fill="#6ab47b"/>
<rect x="1453.9" y="573.8" width="2" height="76.1" fill="#6ab47b"/>
<rect x="1446.1" y="593.9" width="17.6" height="7.7" fill="#6ab47b"/>
<rect x="1477.9" y="564.2" width="2" height="43.2" fill="#6ab47b"/>
<rect x="1470.1" y="576.1" width="17.6" height="17.3" fill="#6ab47b"/>
<rect x="1501.9" y="554" width="2" height="55.2" fill="#df6e66"/>
<rect x="1494.1" y="576.1" width="17.6" height="31.3" fill="#df6e66"/>
<rect x="1525.9" y="592.2" width="2" height="193.3" fill="#df6e66"/>
<rect x="1518.1" y="608.2" width="17.6" height="55.7" fill="#df6e66"/>
<rect x="1549.9" y="626.5" width="2" height="89.1" fill="#df6e66"/>
<rect x="1542.1" y="664.2" width="17.6" height="29.2" fill="#df6e66"/>
<rect x="1573.9" y="684.2" width="2" height="161.3" fill="#df6e66"/>
<rect x="1566.1" y="694.4" width="17.6" height="71.2" fill="#df6e66"/>
<rect x="1597.9" y="714" width="2" height="125.4" fill="#6ab47b"/>
<rect x="1590.1" y="716" width="17.6" height="49.6" fill="#6ab47b"/>
<rect x="1621.9" y="706.3" width="2" height="63.1" fill="#df6e66"/>
<rect x="1614.1" y="716" width="17.6" height="23.4" fill="#df6e66"/>
<rect x="1645.9" y="716" width="2" height="61.6" fill="#6ab47b"/>
<rect x="1638.1" y="732.3" width="17.6" height="7.1" fill="#6ab47b"/>
<rect x="1669.9" y="691.8" width="2" height="73.8" fill="#6ab47b"/>
<rect x="1662.1" y="718.3" width="17.6" height="13.5" fill="#6ab47b"/>
<rect x="1693.9" y="706.3" width="2" height="115" fill="#df6e66"/>
<rect x="1686.1" y="718.3" width="17.6" height="75" fill="#df6e66"/>
<rect x="1717.9" y="781.9" width="2" height="81.7" fill="#6ab47b"/>
<rect x="1710.1" y="788.2" width="17.6" height="5.1" fill="#6ab47b"/>
<rect x="1741.9" y="769.9" width="2" height="73.8" fill="#df6e66"/>
<rect x="1734.1" y="788.2" width="17.6" height="3.4" fill="#df6e66"/>
<rect x="1765.9" y="769.9" width="2" height="47.6" fill="#df6e66"/>
<rect x="1758.1" y="792.1" width="17.6" height="19.3" fill="#df6e66"/>
<rect x="1789.9" y="788.2" width="2" height="67.5" fill="#df6e66"/>
<rect x="1782.1" y="811.9" width="17.6" height="39.4" fill="#df6e66"/>
<rect x="1813.9" y="832.3" width="2" height="51.4" fill="#df6e66"/>
<rect x="1806.1" y="852.1" width="17.6" height="27.2" fill="#df6e66"/>
<rect x="1837.9" y="806.3" width="2" height="81.2" fill="#6ab47b"/>
<rect x="1830.1" y="816.2" width="17.6" height="63.1" fill="#6ab47b"/>
<rect x="1861.9" y="752.3" width="2" height="77.9" fill="#6ab47b"/>
<rect x="1854.1" y="754.3" width="17.6" height="61.7" fill="#6ab47b"/>
<rect x="1885.9" y="729.8" width="2" height="51.7" fill="#df6e66"/>
<rect x="1878.1" y="754.3" width="17.6" height="3.3" fill="#df6e66"/>
<rect x="1909.9" y="739.7" width="2" height="32.1" fill="#df6e66"/>
<rect x="1902.1" y="758.3" width="17.6" height="5.2" fill="#df6e66"/>
<rect x="1933.9" y="758.3" width="2" height="41.6" fill="#6ab47b"/>
<rect x="1926.1" y="763.9" width="17.6" height="2" fill="#6ab47b"/>
<rect x="1957.9" y="677.9" width="2" height="87.8" fill="#6ab47b"/>
<rect x="1950.1" y="718.3" width="17.6" height="45.2" fill="#6ab47b"/>
<rect x="1981.9" y="696.1" width="2" height="51.7" fill="#df6e66"/>
<rect x="1974.1" y="718.3" width="17.6" height="25.4" fill="#df6e66"/>
<rect x="2005.9" y="720.1" width="2" height="47.9" fill="#df6e66"/>
<rect x="1998.1" y="744.4" width="17.6" height="3.4" fill="#df6e66"/>
<rect x="2029.9" y="734.3" width="2" height="81.3" fill="#df6e66"/>
<rect x="2022.1" y="748.2" width="17.6" height="45.4" fill="#df6e66"/>
<rect x="2053.9" y="760.6" width="2" height="52.7" fill="#6ab47b"/>
<rect x="2046.1" y="782.4" width="17.6" height="13.4" fill="#6ab47b"/>
<rect x="2077.9" y="748.2" width="2" height="55.7" fill="#6ab47b"/>
<rect x="2070.1" y="766.2" width="17.6" height="15.2" fill="#6ab47b"/>
<rect x="2101.9" y="754.5" width="2" height="44.9" fill="#df6e66"/>
<rect x="2094.1" y="766.2" width="17.6" height="29.6" fill="#df6e66"/>
<rect x="2125.9" y="738.6" width="2" height="59" fill="#6ab47b"/>
<rect x="2118.1" y="746.4" width="17.6" height="49.4" fill="#6ab47b"/>
<rect x="2149.9" y="708" width="2" height="45.5" fill="#6ab47b"/>
<rect x="2142.1" y="721.9" width="17.6" height="23.4" fill="#6ab47b"/>
<rect x="2173.9" y="695.7" width="2" height="44" fill="#6ab47b"/>
<rect x="2166.1" y="721.9" width="17.6" height="2" fill="#6ab47b"/>
<rect x="2197.9" y="708" width="2" height="43.7" fill="#6ab47b"/>
<rect x="2190.1" y="712.3" width="17.6" height="9.4" fill="#6ab47b"/>
<rect x="2221.9" y="645.6" width="2" height="78.1" fill="#6ab47b"/>
<rect x="2214.1" y="652" width="17.6" height="59.8" fill="#6ab47b"/>
<rect x="2245.9" y="630.3" width="2" height="33.6" fill="#6ab47b"/>
<rect x="2238.1" y="646.1" width="17.6" height="5.6" fill="#6ab47b"/>
<rect x="2269.9" y="607.9" width="2" height="57.8" fill="#df6e66"/>
<rect x="2262.1" y="646.1" width="17.6" height="13.2" fill="#df6e66"/>
<rect x="2293.9" y="594" width="2" height="75.5" fill="#6ab47b"/>
<rect x="2286.1" y="596" width="17.6" height="63.3" fill="#6ab47b"/>
<rect x="2317.9" y="574.1" width="2" height="47.8" fill="#df6e66"/>
<rect x="2310.1" y="598.3" width="17.6" height="5.3" fill="#df6e66"/>
<rect x="2341.9" y="578.2" width="2" height="63.3" fill="#6ab47b"/>
<rect x="2334.1" y="598.3" width="17.6" height="5.3" fill="#6ab47b"/>
<rect x="2365.9" y="558.3" width="2" height="41.5" fill="#6ab47b"/>
<rect x="2358.1" y="580" width="17.6" height="17.8" fill="#6ab47b"/>
<rect x="2389.9" y="574.1" width="2" height="51.7" fill="#df6e66"/>
<rect x="2382.1" y="580" width="17.6" height="3.3" fill="#df6e66"/>
<rect x="2413.9" y="566" width="2" height="35.6" fill="#df6e66"/>
<rect x="2406.1" y="584.3" width="17.6" height="5.3" fill="#df6e66"/>
<rect x="2437.9" y="508.3" width="2" height="91.5" fill="#6ab47b"/>
<rect x="2430.1" y="524.4" width="17.6" height="65.4" fill="#6ab47b"/>
<rect x="2461.9" y="478.3" width="2" height="51.6" fill="#6ab47b"/>
<rect x="2454.1" y="487.9" width="17.6" height="36" fill="#6ab47b"/>
<rect x="2485.9" y="484.3" width="2" height="47.5" fill="#df6e66"/>
<rect x="2478.1" y="487.9" width="17.6" height="36" fill="#df6e66"/>
<rect x="2509.9" y="502.3" width="2" height="43.1" fill="#6ab47b"/>
<rect x="2502.1" y="510.2" width="17.6" height="13.7" fill="#6ab47b"/>
<rect x="2533.9" y="502.3" width="2" height="135.4" fill="#df6e66"/>
<rect x="2526.1" y="510.2" width="17.6" height="89.2" fill="#df6e66"/>
<rect x="2557.9" y="584.3" width="2" height="79" fill="#df6e66"/>
<rect x="2550.1" y="600.1" width="17.6" height="41.7" fill="#df6e66"/>
<rect x="2581.9" y="596.2" width="2" height="61.4" fill="#6ab47b"/>
<rect x="2574.1" y="608.2" width="17.6" height="33.6" fill="#6ab47b"/>
<rect x="2605.9" y="580.2" width="2" height="47.2" fill="#df6e66"/>
<rect x="2598.1" y="608.2" width="17.6" height="7.2" fill="#df6e66"/>
<rect x="2629.9" y="598.2" width="2" height="47.4" fill="#df6e66"/>
<rect x="2622.1" y="616.1" width="17.6" height="11.3" fill="#df6e66"/>
<rect x="2653.9" y="526.3" width="2" height="105.4" fill="#6ab47b"/>
<rect x="2646.1" y="545.9" width="17.6" height="81.5" fill="#6ab47b"/>
<rect x="2677.9" y="524.4" width="2" height="47.4" fill="#6ab47b"/>
<rect x="2670.1" y="528.2" width="17.6" height="17.2" fill="#6ab47b"/>
<rect x="2701.9" y="514.3" width="2" height="83.4" fill="#df6e66"/>
<rect x="2694.1" y="528.2" width="17.6" height="37.1" fill="#df6e66"/>
<rect x="2725.9" y="534.1" width="2" height="37.5" fill="#6ab47b"/>
<rect x="2718.1" y="540.2" width="17.6" height="25.3" fill="#6ab47b"/>
<rect x="2749.9" y="528.2" width="2" height="35.7" fill="#df6e66"/>
<rect x="2742.1" y="540.2" width="17.6" height="11.5" fill="#df6e66"/>
<rect x="2773.9" y="519.8" width="2" height="42" fill="#6ab47b"/>
<rect x="2766.1" y="534.1" width="17.6" height="17.6" fill="#6ab47b"/>
<rect x="2797.9" y="528.2" width="2" height="45.5" fill="#df6e66"/>
<rect x="2790.1" y="534.1" width="17.6" height="31.9" fill="#df6e66"/>
<rect x="2821.9" y="563.9" width="2" height="53.8" fill="#df6e66"/>
<rect x="2814.1" y="566.4" width="17.6" height="13.2" fill="#df6e66"/>
<rect x="2845.9" y="558" width="2" height="39.8" fill="#6ab47b"/>
<rect x="2838.1" y="570.1" width="17.6" height="9.5" fill="#6ab47b"/>
<rect x="2869.9" y="551.9" width="2" height="63.9" fill="#df6e66"/>
<rect x="2862.1" y="570.1" width="17.6" height="11.6" fill="#df6e66"/>
<rect x="2893.9" y="577.9" width="2" height="77.8" fill="#df6e66"/>
<rect x="2886.1" y="582.1" width="17.6" height="51.6" fill="#df6e66"/>
<rect x="2917.9" y="616.3" width="2" height="55.5" fill="#6ab47b"/>
<rect x="2910.1" y="622.1" width="17.6" height="11.6" fill="#6ab47b"/>
<rect x="2941.9" y="607.9" width="2" height="49.9" fill="#df6e66"/>
<rect x="2934.1" y="622.1" width="17.6" height="17.6" fill="#df6e66"/>
<rect x="2965.9" y="577.9" width="2" height="75.7" fill="#6ab47b"/>
<rect x="2958.1" y="598" width="17.6" height="41.7" fill="#6ab47b"/>
<rect x="2989.9" y="595.9" width="2" height="105.9" fill="#df6e66"/>
<rect x="2982.1" y="598" width="17.6" height="91.6" fill="#df6e66"/>
<rect x="3013.9" y="666" width="2" height="59.7" fill="#df6e66"/>
<rect x="3006.1" y="690.1" width="17.6" height="23.3" fill="#df6e66"/>
<rect x="3037.9" y="676.3" width="2" height="47.3" fill="#6ab47b"/>
<rect x="3030.1" y="682.1" width="17.6" height="31.3" fill="#6ab47b"/>
<rect x="3061.9" y="652" width="2" height="35.7" fill="#6ab47b"/>
<rect x="3054.1" y="664" width="17.6" height="17.6" fill="#6ab47b"/>
<rect x="3085.9" y="614.1" width="2" height="57.6" fill="#6ab47b"/>
<rect x="3078.1" y="632.2" width="17.6" height="31.3" fill="#6ab47b"/>
<rect x="3109.9" y="618.2" width="2" height="31.3" fill="#6ab47b"/>
<rect x="3102.1" y="628.4" width="17.6" height="3" fill="#6ab47b"/>
<rect x="3133.9" y="589.7" width="2" height="40" fill="#6ab47b"/>
<rect x="3126.1" y="604.2" width="17.6" height="23.1" fill="#6ab47b"/>
<rect x="3157.9" y="592.2" width="2" height="27.3" fill="#6ab47b"/>
<rect x="3150.1" y="596.3" width="17.6" height="7.1" fill="#6ab47b"/>
<rect x="3181.9" y="594" width="2" height="39.8" fill="#df6e66"/>
<rect x="3174.1" y="596.3" width="17.6" height="25.2" fill="#df6e66"/>
<rect x="30.1" y="1326.1" width="17.6" height="109.4" fill="#6ab47b"/>
<rect x="54.1" y="1394.2" width="17.6" height="41.3" fill="#df6e66"/>
<rect x="78.1" y="1382.1" width="17.6" height="53.4" fill="#df6e66"/>
<rect x="102.1" y="1404.1" width="17.6" height="31.4" fill="#6ab47b"/>
<rect x="126.1" y="1404.1" width="17.6" height="31.4" fill="#df6e66"/>
<rect x="150.1" y="1396.3" width="17.6" height="39.2" fill="#6ab47b"/>
<rect x="174.1" y="1390" width="17.6" height="45.5" fill="#6ab47b"/>
<rect x="198.1" y="1394.2" width="17.6" height="41.3" fill="#df6e66"/>
<rect x="222.1" y="1388" width="17.6" height="47.5" fill="#6ab47b"/>
<rect x="246.1" y="1392.1" width="17.6" height="43.4" fill="#6ab47b"/>
<rect x="270.1" y="1356.1" width="17.6" height="79.4" fill="#df6e66"/>
<rect x="294.1" y="1368" width="17.6" height="67.5" fill="#6ab47b"/>
<rect x="318.1" y="1363.8" width="17.6" height="71.7" fill="#6ab47b"/>
<rect x="342.1" y="1348.1" width="17.6" height="87.4" fill="#6ab47b"/>
<rect x="366.1" y="1260.1" width="17.6" height="175.4" fill="#6ab47b"/>
<rect x="390.1" y="1332" width="17.6" height="103.5" fill="#df6e66"/>
<rect x="414.1" y="1362.2" width="17.6" height="73.3" fill="#6ab47b"/>
<rect x="438.1" y="1395.9" width="17.6" height="39.6" fill="#df6e66"/>
<rect x="462.1" y="1402" width="17.6" height="33.5" fill="#df6e66"/>
<rect x="486.1" y="1390" width="17.6" height="45.5" fill="#6ab47b"/>
<rect x="510.1" y="1390" width="17.6" height="45.5" fill="#df6e66"/>
<rect x="534.1" y="1404.1" width="17.6" height="31.4" fill="#6ab47b"/>
<rect x="558.1" y="1394.2" width="17.6" height="41.3" fill="#6ab47b"/>
<rect x="582.1" y="1395.9" width="17.6" height="39.6" fill="#6ab47b"/>
<rect x="606.1" y="1356.1" width="17.6" height="79.4" fill="#6ab47b"/>
<rect x="630.1" y="1386.5" width="17.6" height="49" fill="#6ab47b"/>
<rect x="654.1" y="1343.9" width="17.6" height="91.6" fill="#df6e66"/>
<rect x="678.1" y="1395.9" width="17.6" height="39.6" fill="#6ab47b"/>
<rect x="702.1" y="1372.2" width="17.6" height="63.3" fill="#6ab47b"/>
<rect x="726.1" y="1370.1" width="17.6" height="65.4" fill="#6ab47b"/>
<rect x="750.1" y="1395.9" width="17.6" height="39.6" fill="#6ab47b"/>
<rect x="774.1" y="1390" width="17.6" height="45.5" fill="#df6e66"/>
<rect x="798.1" y="1394.2" width="17.6" height="41.3" fill="#df6e66"/>
<rect x="822.1" y="1400.1" width="17.6" height="35.4" fill="#6ab47b"/>
<rect x="846.1" y="1334.1" width="17.6" height="101.4" fill="#6ab47b"/>
<rect x="870.1" y="1371.8" width="17.6" height="63.7" fill="#6ab47b"/>
<rect x="894.1" y="1388" width="17.6" height="47.5" fill="#6ab47b"/>
<rect x="918.1" y="1395.9" width="17.6" height="39.6" fill="#df6e66"/>
<rect x="942.1" y="1380.2" width="17.6" height="55.3" fill="#df6e66"/>
<rect x="966.1" y="1395.9" width="17.6" height="39.6" fill="#6ab47b"/>
<rect x="990.1" y="1398" width="17.6" height="37.5" fill="#6ab47b"/>
<rect x="1014.1" y="1400.1" width="17.6" height="35.4" fill="#df6e66"/>
<rect x="1038.1" y="1404.1" width="17.6" height="31.4" fill="#df6e66"/>
<rect x="1062.1" y="1366" width="17.6" height="69.5" fill="#6ab47b"/>
<rect x="1086.1" y="1410" width="17.6" height="25.5" fill="#df6e66"/>
<rect x="1110.1" y="1420" width="17.6" height="15.5" fill="#6ab47b"/>
<rect x="1134.1" y="1394.2" width="17.6" height="41.3" fill="#6ab47b"/>
<rect x="1158.1" y="1397.8" width="17.6" height="37.7" fill="#df6e66"/>
<rect x="1182.1" y="1407.9" width="17.6" height="27.6" fill="#6ab47b"/>
<rect x="1206.1" y="1407.9" width="17.6" height="27.6" fill="#6ab47b"/>
<rect x="1230.1" y="1394.2" width="17.6" height="41.3" fill="#df6e66"/>
<rect x="1254.1" y="1406.2" width="17.6" height="29.3" fill="#6ab47b"/>
<rect x="1278.1" y="1394.2" width="17.6" height="41.3" fill="#6ab47b"/>
<rect x="1302.1" y="1412.1" width="17.6" height="23.4" fill="#6ab47b"/>
<rect x="1326.1" y="1368" width="17.6" height="67.5" fill="#df6e66"/>
<rect x="1350.1" y="1415.8" width="17.6" height="19.7" fill="#df6e66"/>
<rect x="1374.1" y="1406.2" width="17.6" height="29.3" fill="#6ab47b"/>
<rect x="1398.1" y="1398" width="17.6" height="37.5" fill="#6ab47b"/>
<rect x="1422.1" y="1340.2" width="17.6" height="95.3" fill="#6ab47b"/>
<rect x="1446.1" y="1412.1" width="17.6" height="23.4" fill="#6ab47b"/>
<rect x="1470.1" y="1410" width="17.6" height="25.5" fill="#6ab47b"/>
<rect x="1494.1" y="1406.2" width="17.6" height="29.3" fill="#df6e66"/>
<rect x="1518.1" y="1348.1" width="17.6" height="87.4" fill="#df6e66"/>
<rect x="1542.1" y="1395.9" width="17.6" height="39.6" fill="#df6e66"/>
<rect x="1566.1" y="1255.9" width="17.6" height="179.6" fill="#df6e66"/>
<rect x="1590.1" y="1376" width="17.6" height="59.5" fill="#6ab47b"/>
<rect x="1614.1" y="1346" width="17.6" height="89.5" fill="#df6e66"/>
<rect x="1638.1" y="1407.9" width="17.6" height="27.6" fill="#6ab47b"/>
<rect x="1662.1" y="1392.1" width="17.6" height="43.4" fill="#6ab47b"/>
<rect x="1686.1" y="1378.1" width="17.6" height="57.4" fill="#df6e66"/>
<rect x="1710.1" y="1340.2" width="17.6" height="95.3" fill="#6ab47b"/>
<rect x="1734.1" y="1402" width="17.6" height="33.5" fill="#df6e66"/>
<rect x="1758.1" y="1395.9" width="17.6" height="39.6" fill="#df6e66"/>
<rect x="1782.1" y="1402" width="17.6" height="33.5" fill="#df6e66"/>
<rect x="1806.1" y="1388" width="17.6" height="47.5" fill="#df6e66"/>
<rect x="1830.1" y="1400.1" width="17.6" height="35.4" fill="#6ab47b"/>
<rect x="1854.1" y="1388" width="17.6" height="47.5" fill="#6ab47b"/>
<rect x="1878.1" y="1400.1" width="17.6" height="35.4" fill="#df6e66"/>
<rect x="1902.1" y="1394.2" width="17.6" height="41.3" fill="#df6e66"/>
<rect x="1926.1" y="1404.1" width="17.6" height="31.4" fill="#6ab47b"/>
<rect x="1950.1" y="1382.1" width="17.6" height="53.4" fill="#6ab47b"/>
<rect x="1974.1" y="1406.2" width="17.6" height="29.3" fill="#df6e66"/>
<rect x="1998.1" y="1386.3" width="17.6" height="49.2" fill="#df6e66"/>
<rect x="2022.1" y="1394.2" width="17.6" height="41.3" fill="#df6e66"/>
<rect x="2046.1" y="1394.2" width="17.6" height="41.3" fill="#6ab47b"/>
<rect x="2070.1" y="1370.1" width="17.6" height="65.4" fill="#6ab47b"/>
<rect x="2094.1" y="1384.2" width="17.6" height="51.3" fill="#df6e66"/>
<rect x="2118.1" y="1410" width="17.6" height="25.5" fill="#6ab47b"/>
<rect x="2142.1" y="1406.2" width="17.6" height="29.3" fill="#6ab47b"/>
<rect x="2166.1" y="1402" width="17.6" height="33.5" fill="#6ab47b"/>
<rect x="2190.1" y="1388" width="17.6" height="47.5" fill="#6ab47b"/>
<rect x="2214.1" y="1395.9" width="17.6" height="39.6" fill="#6ab47b"/>
<rect x="2238.1" y="1402" width="17.6" height="33.5" fill="#6ab47b"/>
<rect x="2262.1" y="1404.1" width="17.6" height="31.4" fill="#df6e66"/>
<rect x="2286.1" y="1400.1" width="17.6" height="35.4" fill="#6ab47b"/>
<rect x="2310.1" y="1400.1" width="17.6" height="35.4" fill="#df6e66"/>
<rect x="2334.1" y="1380.2" width="17.6" height="55.3" fill="#6ab47b"/>
<rect x="2358.1" y="1388" width="17.6" height="47.5" fill="#6ab47b"/>
<rect x="2382.1" y="1346" width="17.6" height="89.5" fill="#df6e66"/>
<rect x="2406.1" y="1398" width="17.6" height="37.5" fill="#df6e66"/>
<rect x="2430.1" y="1350.2" width="17.6" height="85.3" fill="#6ab47b"/>
<rect x="2454.1" y="1410" width="17.6" height="25.5" fill="#6ab47b"/>
<rect x="2478.1" y="1395.9" width="17.6" height="39.6" fill="#df6e66"/>
<rect x="2502.1" y="1406.2" width="17.6" height="29.3" fill="#6ab47b"/>
<rect x="2526.1" y="1352.3" width="17.6" height="83.2" fill="#df6e66"/>
<rect x="2550.1" y="1392.1" width="17.6" height="43.4" fill="#df6e66"/>
<rect x="2574.1" y="1380.2" width="17.6" height="55.3" fill="#6ab47b"/>
<rect x="2598.1" y="1410" width="17.6" height="25.5" fill="#df6e66"/>
<rect x="2622.1" y="1394.2" width="17.6" height="41.3" fill="#df6e66"/>
<rect x="2646.1" y="1400.1" width="17.6" height="35.4" fill="#6ab47b"/>
<rect x="2670.1" y="1404.1" width="17.6" height="31.4" fill="#6ab47b"/>
<rect x="2694.1" y="1402" width="17.6" height="33.5" fill="#df6e66"/>
<rect x="2718.1" y="1400.1" width="17.6" height="35.4" fill="#6ab47b"/>
<rect x="2742.1" y="1414.2" width="17.6" height="21.3" fill="#df6e66"/>
<rect x="2766.1" y="1330.3" width="17.6" height="105.2" fill="#6ab47b"/>
<rect x="2790.1" y="1384.2" width="17.6" height="51.3" fill="#df6e66"/>
<rect x="2814.1" y="1378.1" width="17.6" height="57.4" fill="#df6e66"/>
<rect x="2838.1" y="1407.9" width="17.6" height="27.6" fill="#6ab47b"/>
<rect x="2862.1" y="1382.1" width="17.6" height="53.4" fill="#df6e66"/>
<rect x="2886.1" y="1398" width="17.6" height="37.5" fill="#df6e66"/>
<rect x="2910.1" y="1394.2" width="17.6" height="41.3" fill="#6ab47b"/>
<rect x="2934.1" y="1406.2" width="17.6" height="29.3" fill="#df6e66"/>
<rect x="2958.1" y="1382.1" width="17.6" height="53.4" fill="#6ab47b"/>
<rect x="2982.1" y="1380.2" width="17.6" height="55.3" fill="#df6e66"/>
<rect x="3006.1" y="1374.3" width="17.6" height="61.2" fill="#df6e66"/>
<rect x="3030.1" y="1402" width="17.6" height="33.5" fill="#6ab47b"/>
<rect x="3054.1" y="1370.1" width="17.6" height="65.4" fill="#6ab47b"/>
<rect x="3078.1" y="1380.2" width="17.6" height="55.3" fill="#6ab47b"/>
<rect x="3102.1" y="1389" width="17.6" height="46.5" fill="#6ab47b"/>
<rect x="3126.1" y="1398" width="17.6" height="37.5" fill="#6ab47b"/>
<rect x="3150.1" y="1387.5" width="17.6" height="48" fill="#6ab47b"/>
<rect x="3174.1" y="1417" width="17.6" height="18.5" fill="#df6e66"/>
<polyline points="38.9,1338.7 62.9,1352.9 86.9,1350.8 110.9,1366 134.9,1382.1 158.9,1396.2 182.9,1395.3 206.9,1397.7 230.9,1394.5 254.9,1392.1 278.9,1384.1 302.9,1379.7 326.9,1373.6 350.9,1365.6 374.9,1339.2 398.9,1334.4 422.9,1333.2 446.9,1339.7 470.9,1350.4 494.9,1376.4 518.9,1388 542.9,1396.4 566.9,1396.1 590.9,1394.8 614.9,1388.1 638.9,1387.4 662.9,1375.3 686.9,1375.7 710.9,1370.9 734.9,1373.7 758.9,1375.6 782.9,1384.8 806.9,1384.5 830.9,1390.1 854.9,1382.9 878.9,1378 902.9,1377.6 926.9,1378 950.9,1374 974.9,1386.4 998.9,1391.6 1022.9,1394 1046.9,1395.7 1070.9,1392.8 1094.9,1395.6 1118.9,1400 1142.9,1398.9 1166.9,1397.6 1190.9,1406 1214.9,1405.6 1238.9,1400.4 1262.9,1402.8 1286.9,1402.1 1310.9,1402.9 1334.9,1394.9 1358.9,1399.3 1382.9,1399.3 1406.9,1400 1430.9,1385.6 1454.9,1394.5 1478.9,1393.3 1502.9,1393.3 1526.9,1383.3 1550.9,1394.5 1574.9,1363.2 1598.9,1356.4 1622.9,1344.4 1646.9,1356.3 1670.9,1355.6 1694.9,1380 1718.9,1372.9 1742.9,1384.1 1766.9,1381.7 1790.9,1383.6 1814.9,1385.6 1838.9,1397.6 1862.9,1394.8 1886.9,1395.6 1910.9,1394.1 1934.9,1397.3 1958.9,1393.7 1982.9,1397.3 2006.9,1394.6 2030.9,1394.6 2054.9,1392.6 2078.9,1390.2 2102.9,1385.8 2126.9,1390.5 2150.9,1392.9 2174.9,1394.5 2198.9,1398.1 2222.9,1400.4 2246.9,1398.8 2270.9,1398.4 2294.9,1398 2318.9,1400.4 2342.9,1397.3 2366.9,1394.5 2390.9,1382.9 2414.9,1382.5 2438.9,1372.5 2462.9,1378.4 2486.9,1380 2510.9,1392.1 2534.9,1382.9 2558.9,1391.3 2582.9,1385.3 2606.9,1388.2 2630.9,1385.8 2654.9,1395.3 2678.9,1397.7 2702.9,1402.1 2726.9,1400.1 2750.9,1404.1 2774.9,1390.1 2798.9,1386.2 2822.9,1381.4 2846.9,1382.9 2870.9,1376.5 2894.9,1390.1 2918.9,1392.1 2942.9,1397.7 2966.9,1392.5 2990.9,1392.1 3014.9,1387.4 3038.9,1389 3062.9,1381.7 3086.9,1381.4 3110.9,1383.1 3134.9,1387.9 3158.9,1385 3182.9,1394.3" fill="none" stroke="#c9517c" stroke-width="2" stroke-linejoin="round"/>
<polyline points="38.9,1364.9 62.9,1364.9 86.9,1364.9 110.9,1364.9 134.9,1366.4 158.9,1369.1 182.9,1374.7 206.9,1374.7 230.9,1378.5 254.9,1387.1 278.9,1390.1 302.9,1387.5 326.9,1385.7 350.9,1380.1 374.9,1365.7 398.9,1359.2 422.9,1356.5 446.9,1356.6 470.9,1358 494.9,1357.8 518.9,1361.2 542.9,1364.8 566.9,1367.9 590.9,1372.6 614.9,1382.2 638.9,1387.7 662.9,1385.9 686.9,1385.9 710.9,1382.9 734.9,1380.9 758.9,1381.5 782.9,1380.1 806.9,1380.1 830.9,1380.5 854.9,1378.3 878.9,1376.8 902.9,1381.2 926.9,1381.2 950.9,1382 974.9,1384.6 998.9,1384.8 1022.9,1385.8 1046.9,1386.8 1070.9,1383.4 1094.9,1391 1118.9,1395.8 1142.9,1396.4 1166.9,1396.6 1190.9,1399.4 1214.9,1400.6 1238.9,1400.2 1262.9,1400.8 1286.9,1399.8 1310.9,1404.5 1334.9,1400.2 1358.9,1399.8 1382.9,1401 1406.9,1401 1430.9,1394.3 1454.9,1394.7 1478.9,1396.3 1502.9,1396.3 1526.9,1391.7 1550.9,1390 1574.9,1378.8 1598.9,1374.9 1622.9,1368.8 1646.9,1369.8 1670.9,1375 1694.9,1371.6 1718.9,1364.6 1742.9,1364.2 1766.9,1369 1790.9,1369.6 1814.9,1382.8 1838.9,1385.2 1862.9,1389.4 1886.9,1388.7 1910.9,1388.9 1934.9,1391.5 1958.9,1395.7 1982.9,1396.1 2006.9,1395.1 2030.9,1394.3 2054.9,1395 2078.9,1392 2102.9,1391.6 2126.9,1392.6 2150.9,1393.8 2174.9,1393.5 2198.9,1394.1 2222.9,1393.1 2246.9,1394.7 2270.9,1395.7 2294.9,1396.3 2318.9,1399.3 2342.9,1398.9 2366.9,1396.7 2390.9,1390.6 2414.9,1390.2 2438.9,1386.5 2462.9,1387.9 2486.9,1387.3 2510.9,1387.5 2534.9,1382.7 2558.9,1381.9 2582.9,1381.9 2606.9,1384.1 2630.9,1388.9 2654.9,1389.1 2678.9,1394.5 2702.9,1393.7 2726.9,1394.1 2750.9,1394.9 2774.9,1392.7 2798.9,1391.9 2822.9,1391.7 2846.9,1391.5 2870.9,1390.3 2894.9,1390.1 2918.9,1389.1 2942.9,1389.5 2966.9,1387.7 2990.9,1384.3 3014.9,1388.7 3038.9,1390.5 3062.9,1389.7 3086.9,1386.9 3110.9,1387.6 3134.9,1387.6 3158.9,1387 3182.9,1388" fill="none" stroke="#e3b046" stroke-width="2" stroke-linejoin="round"/>
<rect x="31.1" y="1587" width="15.6" height="39" fill="none" stroke="#df6e66" stroke-width="2"/>
<rect x="55.1" y="1587" width="15.6" height="34.8" fill="none" stroke="#df6e66" stroke-width="2"/>
<rect x="79.1" y="1587" width="15.6" height="32.7" fill="none" stroke="#df6e66" stroke-width="2"/>
<rect x="103.1" y="1587" width="15.6" height="27" fill="none" stroke="#df6e66" stroke-width="2"/>
<rect x="127.1" y="1587" width="15.6" height="25" fill="none" stroke="#df6e66" stroke-width="2"/>
<rect x="151.1" y="1587" width="15.6" height="15.1" fill="none" stroke="#df6e66" stroke-width="2"/>
<rect x="175.1" y="1587" width="15.6" height="5" fill="none" stroke="#df6e66" stroke-width="2"/>
<rect x="198.1" y="1586" width="17.6" height="11.2" fill="#df6e66"/>
<rect x="222.1" y="1586" width="17.6" height="11.4" fill="#df6e66"/>
<rect x="247.1" y="1587" width="15.6" height="8.8" fill="none" stroke="#df6e66" stroke-width="2"/>
<rect x="270.1" y="1586" width="17.6" height="15.4" fill="#df6e66"/>
<rect x="295.1" y="1587" width="15.6" height="11.3" fill="none" stroke="#df6e66" stroke-width="2"/>
<rect x="319.1" y="1587" width="15.6" height="5" fill="none" stroke="#df6e66" stroke-width="2"/>
<rect x="342.1" y="1582.1" width="17.6" height="3.9" fill="#6ab47b"/>
<rect x="367.1" y="1563.6" width="15.6" height="21.4" fill="none" stroke="#6ab47b" stroke-width="2"/>
<rect x="390.1" y="1566.2" width="17.6" height="19.8" fill="#6ab47b"/>
<rect x="415.1" y="1565.7" width="15.6" height="19.3" fill="none" stroke="#6ab47b" stroke-width="2"/>
<rect x="438.1" y="1566.2" width="17.6" height="19.8" fill="#6ab47b"/>
<rect x="462.1" y="1572.1" width="17.6" height="13.9" fill="#6ab47b"/>
<rect x="486.1" y="1572.1" width="17.6" height="13.9" fill="#6ab47b"/>
<rect x="510.1" y="1576.3" width="17.6" height="9.7" fill="#6ab47b"/>
<rect x="534.1" y="1576.5" width="17.6" height="9.5" fill="#6ab47b"/>
<rect x="559.1" y="1573.5" width="15.6" height="11.5" fill="none" stroke="#6ab47b" stroke-width="2"/>
<rect x="583.1" y="1565.7" width="15.6" height="19.3" fill="none" stroke="#6ab47b" stroke-width="2"/>
<rect x="607.1" y="1561.5" width="15.6" height="23.5" fill="none" stroke="#6ab47b" stroke-width="2"/>
<rect x="631.1" y="1557.4" width="15.6" height="27.6" fill="none" stroke="#6ab47b" stroke-width="2"/>
<rect x="654.1" y="1558.4" width="17.6" height="27.6" fill="#6ab47b"/>
<rect x="678.1" y="1558.6" width="17.6" height="27.4" fill="#6ab47b"/>
<rect x="703.1" y="1557.4" width="15.6" height="27.6" fill="none" stroke="#6ab47b" stroke-width="2"/>
<rect x="727.1" y="1555.7" width="15.6" height="29.3" fill="none" stroke="#6ab47b" stroke-width="2"/>
<rect x="751.1" y="1549.6" width="15.6" height="35.4" fill="none" stroke="#6ab47b" stroke-width="2"/>
<rect x="774.1" y="1554.3" width="17.6" height="31.7" fill="#6ab47b"/>
<rect x="798.1" y="1562.2" width="17.6" height="23.8" fill="#6ab47b"/>
<rect x="822.1" y="1570" width="17.6" height="16" fill="#6ab47b"/>
<rect x="847.1" y="1557.4" width="15.6" height="27.6" fill="none" stroke="#6ab47b" stroke-width="2"/>
<rect x="871.1" y="1539.5" width="15.6" height="45.5" fill="none" stroke="#6ab47b" stroke-width="2"/>
<rect x="895.1" y="1531.6" width="15.6" height="53.4" fill="none" stroke="#6ab47b" stroke-width="2"/>
<rect x="918.1" y="1530.9" width="17.6" height="55.1" fill="#6ab47b"/>
<rect x="942.1" y="1542.1" width="17.6" height="43.9" fill="#6ab47b"/>
<rect x="966.1" y="1548" width="17.6" height="38" fill="#6ab47b"/>
<rect x="991.1" y="1547.5" width="15.6" height="37.5" fill="none" stroke="#6ab47b" stroke-width="2"/>
<rect x="1014.1" y="1548" width="17.6" height="38" fill="#6ab47b"/>
<rect x="1038.1" y="1555.9" width="17.6" height="30.1" fill="#6ab47b"/>
<rect x="1062.1" y="1560.1" width="17.6" height="25.9" fill="#6ab47b"/>
<rect x="1086.1" y="1567.9" width="17.6" height="18.1" fill="#6ab47b"/>
<rect x="1110.1" y="1576.3" width="17.6" height="9.7" fill="#6ab47b"/>
<rect x="1134.1" y="1577.9" width="17.6" height="8.1" fill="#6ab47b"/>
<rect x="1158.1" y="1586" width="17.6" height="3.9" fill="#df6e66"/>
<rect x="1182.1" y="1586" width="17.6" height="5.4" fill="#df6e66"/>
<rect x="1206.1" y="1586" width="17.6" height="3.9" fill="#df6e66"/>
<rect x="1230.1" y="1586" width="17.6" height="5.4" fill="#df6e66"/>
<rect x="1254.1" y="1586" width="17.6" height="5.5" fill="#df6e66"/>
<rect x="1278.1" y="1586" width="17.6" height="2" fill="#df6e66"/>
<rect x="1303.1" y="1581.5" width="15.6" height="3.5" fill="none" stroke="#6ab47b" stroke-width="2"/>
<rect x="1326.1" y="1582.1" width="17.6" height="3.9" fill="#6ab47b"/>
<rect x="1350.1" y="1586" width="17.6" height="2" fill="#df6e66"/>
<rect x="1375.1" y="1579.4" width="15.6" height="5.6" fill="none" stroke="#6ab47b" stroke-width="2"/>
<rect x="1399.1" y="1571.4" width="15.6" height="13.6" fill="none" stroke="#6ab47b" stroke-width="2"/>
<rect x="1423.1" y="1567.4" width="15.6" height="17.6" fill="none" stroke="#6ab47b" stroke-width="2"/>
<rect x="1447.1" y="1565.7" width="15.6" height="19.3" fill="none" stroke="#6ab47b" stroke-width="2"/>
<rect x="1471.1" y="1563.6" width="15.6" height="21.4" fill="none" stroke="#6ab47b" stroke-width="2"/>
<rect x="1494.1" y="1570" width="17.6" height="16" fill="#6ab47b"/>
<rect x="1518.1" y="1586" width="17.6" height="3.9" fill="#df6e66"/>
<rect x="1542.1" y="1586" width="17.6" height="19.6" fill="#df6e66"/>
<rect x="1566.1" y="1586" width="17.6" height="43.7" fill="#df6e66"/>
<rect x="1590.1" y="1586" width="17.6" height="47.3" fill="#df6e66"/>
<rect x="1614.1" y="1586" width="17.6" height="55.7" fill="#df6e66"/>
<rect x="1638.1" y="1586" width="17.6" height="55.8" fill="#df6e66"/>
<rect x="1663.1" y="1587" width="15.6" height="50.7" fill="none" stroke="#df6e66" stroke-width="2"/>
<rect x="1686.1" y="1586" width="17.6" height="61.5" fill="#df6e66"/>
<rect x="1710.1" y="1586" width="17.6" height="63.6" fill="#df6e66"/>
<rect x="1735.1" y="1587" width="15.6" height="61" fill="none" stroke="#df6e66" stroke-width="2"/>
<rect x="1758.1" y="1586" width="17.6" height="63.6" fill="#df6e66"/>
<rect x="1782.1" y="1586" width="17.6" height="67.4" fill="#df6e66"/>
<rect x="1806.1" y="1586" width="17.6" height="71.6" fill="#df6e66"/>
<rect x="1831.1" y="1587" width="15.6" height="57" fill="none" stroke="#df6e66" stroke-width="2"/>
<rect x="1855.1" y="1587" width="15.6" height="36.9" fill="none" stroke="#df6e66" stroke-width="2"/>
<rect x="1879.1" y="1587" width="15.6" height="23.3" fill="none" stroke="#df6e66" stroke-width="2"/>
<rect x="1903.1" y="1587" width="15.6" height="14.9" fill="none" stroke="#df6e66" stroke-width="2"/>
<rect x="1927.1" y="1587" width="15.6" height="7.1" fill="none" stroke="#df6e66" stroke-width="2"/>
<rect x="1951.1" y="1581.5" width="15.6" height="3.5" fill="none" stroke="#6ab47b" stroke-width="2"/>
<rect x="1975.1" y="1579.8" width="15.6" height="5.2" fill="none" stroke="#6ab47b" stroke-width="2"/>
<rect x="1999.1" y="1577.7" width="15.6" height="7.3" fill="none" stroke="#6ab47b" stroke-width="2"/>
<rect x="2022.1" y="1584.7" width="17.6" height="2" fill="#6ab47b"/>
<rect x="2046.1" y="1586" width="17.6" height="3.9" fill="#df6e66"/>
<rect x="2070.1" y="1586" width="17.6" height="2" fill="#df6e66"/>
<rect x="2094.1" y="1586" width="17.6" height="5" fill="#df6e66"/>
<rect x="2118.1" y="1582.1" width="17.6" height="3.9" fill="#6ab47b"/>
<rect x="2143.1" y="1575.6" width="15.6" height="9.4" fill="none" stroke="#6ab47b" stroke-width="2"/>
<rect x="2167.1" y="1571.4" width="15.6" height="13.6" fill="none" stroke="#6ab47b" stroke-width="2"/>
<rect x="2191.1" y="1567.4" width="15.6" height="17.6" fill="none" stroke="#6ab47b" stroke-width="2"/>
<rect x="2215.1" y="1557.4" width="15.6" height="27.6" fill="none" stroke="#6ab47b" stroke-width="2"/>
<rect x="2239.1" y="1551.5" width="15.6" height="33.5" fill="none" stroke="#6ab47b" stroke-width="2"/>
<rect x="2262.1" y="1550.7" width="17.6" height="35.3" fill="#6ab47b"/>
<rect x="2287.1" y="1543.3" width="15.6" height="41.7" fill="none" stroke="#6ab47b" stroke-width="2"/>
<rect x="2311.1" y="1541.2" width="15.6" height="43.8" fill="none" stroke="#6ab47b" stroke-width="2"/>
<rect x="2334.1" y="1540.5" width="17.6" height="45.5" fill="#6ab47b"/>
<rect x="2358.1" y="1542.1" width="17.6" height="43.9" fill="#6ab47b"/>
<rect x="2382.1" y="1546.3" width="17.6" height="39.7" fill="#6ab47b"/>
<rect x="2406.1" y="1552.2" width="17.6" height="33.8" fill="#6ab47b"/>
<rect x="2431.1" y="1547.5" width="15.6" height="37.5" fill="none" stroke="#6ab47b" stroke-width="2"/>
<rect x="2455.1" y="1543.3" width="15.6" height="41.7" fill="none" stroke="#6ab47b" stroke-width="2"/>
<rect x="2478.1" y="1546.3" width="17.6" height="39.7" fill="#6ab47b"/>
<rect x="2502.1" y="1550.1" width="17.6" height="35.9" fill="#6ab47b"/>
<rect x="2526.1" y="1570" width="17.6" height="16" fill="#6ab47b"/>
<rect x="2550.1" y="1586" width="17.6" height="9.8" fill="#df6e66"/>
<rect x="2574.1" y="1586" width="17.6" height="17.5" fill="#df6e66"/>
<rect x="2598.1" y="1586" width="17.6" height="25.8" fill="#df6e66"/>
<rect x="2622.1" y="1586" width="17.6" height="31.5" fill="#df6e66"/>
<rect x="2647.1" y="1587" width="15.6" height="19" fill="none" stroke="#df6e66" stroke-width="2"/>
<rect x="2671.1" y="1587" width="15.6" height="9.2" fill="none" stroke="#df6e66" stroke-width="2"/>
<rect x="2694.1" y="1586" width="17.6" height="11.7" fill="#df6e66"/>
<rect x="2719.1" y="1587" width="15.6" height="6.9" fill="none" stroke="#df6e66" stroke-width="2"/>
<rect x="2742.1" y="1586" width="17.6" height="9.6" fill="#df6e66"/>
<rect x="2767.1" y="1587" width="15.6" height="5" fill="none" stroke="#df6e66" stroke-width="2"/>
<rect x="2790.1" y="1586" width="17.6" height="11.7" fill="#df6e66"/>
<rect x="2814.1" y="1586" width="17.6" height="15.4" fill="#df6e66"/>
<rect x="2838.1" y="1586" width="17.6" height="17.5" fill="#df6e66"/>
<rect x="2862.1" y="1586" width="17.6" height="21.7" fill="#df6e66"/>
<rect x="2886.1" y="1586" width="17.6" height="31.5" fill="#df6e66"/>
<rect x="2910.1" y="1586" width="17.6" height="33.4" fill="#df6e66"/>
<rect x="2934.1" y="1586" width="17.6" height="37.6" fill="#df6e66"/>
<rect x="2959.1" y="1587" width="15.6" height="30.9" fill="none" stroke="#df6e66" stroke-width="2"/>
<rect x="2982.1" y="1586" width="17.6" height="41.5" fill="#df6e66"/>
<rect x="3006.1" y="1586" width="17.6" height="51.5" fill="#df6e66"/>
<rect x="3031.1" y="1587" width="15.6" height="47" fill="none" stroke="#df6e66" stroke-width="2"/>
<rect x="3055.1" y="1587" width="15.6" height="38.8" fill="none" stroke="#df6e66" stroke-width="2"/>
<rect x="3079.1" y="1587" width="15.6" height="27.2" fill="none" stroke="#df6e66" stroke-width="2"/>
<rect x="3103.1" y="1587" width="15.6" height="19" fill="none" stroke="#df6e66" stroke-width="2"/>
<rect x="3127.1" y="1587" width="15.6" height="6.9" fill="none" stroke="#df6e66" stroke-width="2"/>
<rect x="3150.1" y="1584.4" width="17.6" height="2" fill="#6ab47b"/>
<rect x="3174.1" y="1582.6" width="17.6" height="3.4" fill="#6ab47b"/>
<polyline points="38.9,1602.9 62.9,1604.6 86.9,1608.3 110.9,1608.3 134.9,1610.9 158.9,1606.7 182.9,1602.1 206.9,1606.7 230.9,1608.8 254.9,1608.8 278.9,1613 302.9,1613 326.9,1610.9 350.9,1606.7 374.9,1594.7 398.9,1592.6 422.9,1590.5 446.9,1588.4 470.9,1590.5 494.9,1588.8 518.9,1588.8 542.9,1588.8 566.9,1584.7 590.9,1578.4 614.9,1574.6 638.9,1567.9 662.9,1564.7 686.9,1562.6 710.9,1559.5 734.9,1554.3 758.9,1546.9 782.9,1544.8 806.9,1546.9 830.9,1548.6 854.9,1536.4 878.9,1522.8 902.9,1512.3 926.9,1506.7 950.9,1506.7 974.9,1505 998.9,1498.7 1022.9,1496.6 1046.9,1496.4 1070.9,1494.9 1094.9,1498.7 1118.9,1500.8 1142.9,1501.2 1166.9,1505 1190.9,1507.1 1214.9,1505 1238.9,1506.7 1262.9,1508.8 1286.9,1506.7 1310.9,1502.9 1334.9,1502.9 1358.9,1504.6 1382.9,1500.8 1406.9,1496.6 1430.9,1490.7 1454.9,1488.6 1478.9,1484.7 1502.9,1486.5 1526.9,1493.5 1550.9,1504.6 1574.9,1523.5 1598.9,1530.1 1622.9,1540.2 1646.9,1548.6 1670.9,1552.2 1694.9,1564.7 1718.9,1571.7 1742.9,1578.4 1766.9,1586.8 1790.9,1596.2 1814.9,1610.2 1838.9,1613 1862.9,1606.7 1886.9,1602.5 1910.9,1600.4 1934.9,1598.3 1958.9,1590.9 1982.9,1588.8 2006.9,1586.8 2030.9,1590.5 2054.9,1592.6 2078.9,1591.4 2102.9,1594.7 2126.9,1590.9 2150.9,1584.7 2174.9,1582.6 2198.9,1578.8 2222.9,1568.3 2246.9,1559.9 2270.9,1556.4 2294.9,1546.5 2318.9,1541 2342.9,1536.9 2366.9,1531.2 2390.9,1529.1 2414.9,1526.6 2438.9,1520.7 2462.9,1512.7 2486.9,1510.9 2510.9,1508.8 2534.9,1517.6 2558.9,1529.1 2582.9,1536.4 2606.9,1541.6 2630.9,1546.7 2654.9,1544.8 2678.9,1540.6 2702.9,1542.5 2726.9,1542.5 2750.9,1542.5 2774.9,1542.5 2798.9,1546.7 2822.9,1550.6 2846.9,1554.6 2870.9,1558.8 2894.9,1567 2918.9,1573.2 2942.9,1579.1 2966.9,1580.9 2990.9,1589.1 3014.9,1599.6 3038.9,1604.9 3062.9,1606.6 3086.9,1604.7 3110.9,1602.6 3134.9,1596.5 3158.9,1593.3 3182.9,1592.6" fill="none" stroke="#c9517c" stroke-width="2" stroke-linejoin="round"/>
<polyline points="38.9,1583 62.9,1586.8 86.9,1590.5 110.9,1594.7 134.9,1597.2 158.9,1599.3 182.9,1600.4 206.9,1601.4 230.9,1603.1 254.9,1604.6 278.9,1605.6 302.9,1607.1 326.9,1608.1 350.9,1607.1 374.9,1604.6 398.9,1602.5 422.9,1600.4 446.9,1598.3 470.9,1596.2 494.9,1594.7 518.9,1594.9 542.9,1593 566.9,1590.5 590.9,1588.8 614.9,1586.8 638.9,1583.2 662.9,1579.4 686.9,1577.3 710.9,1573.1 734.9,1568.9 758.9,1564.1 782.9,1560.1 806.9,1557.4 830.9,1555.3 854.9,1553.2 878.9,1545.9 902.9,1537.5 926.9,1531.8 950.9,1526 974.9,1521.8 998.9,1518 1022.9,1513.8 1046.9,1510.2 1070.9,1507.1 1094.9,1505 1118.9,1505 1142.9,1502.9 1166.9,1504.6 1190.9,1504.6 1214.9,1504.6 1238.9,1505 1262.9,1505.4 1286.9,1506.7 1310.9,1505 1334.9,1504.6 1358.9,1504.6 1382.9,1504.6 1406.9,1502.5 1430.9,1500.4 1454.9,1498.3 1478.9,1494.9 1502.9,1492.8 1526.9,1494.1 1550.9,1496.6 1574.9,1501 1598.9,1506.7 1622.9,1514.4 1646.9,1520.7 1670.9,1526 1694.9,1534.3 1718.9,1542.7 1742.9,1551.1 1766.9,1559.1 1790.9,1567.9 1814.9,1576.7 1838.9,1583.6 1862.9,1586.8 1886.9,1590.5 1910.9,1592.6 1934.9,1593 1958.9,1593 1982.9,1592.6 2006.9,1590.5 2030.9,1590.5 2054.9,1590.9 2078.9,1590.5 2102.9,1592 2126.9,1590.5 2150.9,1590.5 2174.9,1589.3 2198.9,1587.8 2222.9,1585.1 2246.9,1580.9 2270.9,1575.2 2294.9,1567.5 2318.9,1561.6 2342.9,1558.4 2366.9,1553.2 2390.9,1548.6 2414.9,1544.8 2438.9,1539.6 2462.9,1534.8 2486.9,1528.5 2510.9,1524.9 2534.9,1522.8 2558.9,1524.3 2582.9,1526.4 2606.9,1528.5 2630.9,1532.7 2654.9,1534.3 2678.9,1536.7 2702.9,1539 2726.9,1539 2750.9,1540.6 2774.9,1540.8 2798.9,1540.9 2822.9,1542.5 2846.9,1545.3 2870.9,1548.8 2894.9,1553 2918.9,1556.9 2942.9,1561.1 2966.9,1565.1 2990.9,1568.1 3014.9,1573.9 3038.9,1579.8 3062.9,1586.3 3086.9,1590.2 3110.9,1592.6 3134.9,1592.6 3158.9,1592.6 3182.9,1592.6" fill="none" stroke="#e3b046" stroke-width="2" stroke-linejoin="round"/>
<rect x="0" y="1216" width="3358" height="2" fill="#cccccc"/>
<rect x="0" y="1443.5" width="3358" height="2" fill="#cccccc"/>
<rect x="0" y="1698" width="3358" height="2" fill="#cccccc"/>
<rect x="3208" y="353" width="2" height="1346" fill="#cccccc"/>
<rect x="3210" y="517.4" width="9" height="2" fill="#cccccc"/>
<rect x="3349" y="517.4" width="9" height="2" fill="#cccccc"/>
<text x="3284" y="524.7" text-anchor="middle" font-family='"Liberation Sans", "Noto Sans CJK SC", sans-serif' font-size="24" fill="#c3c3c3">60000.0</text>
<rect x="3210" y="625.9" width="9" height="2" fill="#cccccc"/>
<rect x="3349" y="625.9" width="9" height="2" fill="#cccccc"/>
<text x="3284" y="633.2" text-anchor="middle" font-family='"Liberation Sans", "Noto Sans CJK SC", sans-serif' font-size="24" fill="#c3c3c3">55000.0</text>
<rect x="3210" y="735.8" width="9" height="2" fill="#cccccc"/>
<rect x="3349" y="735.8" width="9" height="2" fill="#cccccc"/>
<text x="3284" y="743.1" text-anchor="middle" font-family='"Liberation Sans", "Noto Sans CJK SC", sans-serif' font-size="24" fill="#c3c3c3">50000.0</text>
<rect x="3210" y="843.8" width="9" height="2" fill="#cccccc"/>
<rect x="3349" y="843.8" width="9" height="2" fill="#cccccc"/>
<text x="3284" y="851.1" text-anchor="middle" font-family='"Liberation Sans", "Noto Sans CJK SC", sans-serif' font-size="24" fill="#c3c3c3">45000.0</text>
<rect x="3210" y="953.7" width="9" height="2" fill="#cccccc"/>
<rect x="3349" y="953.7" width="9" height="2" fill="#cccccc"/>
<text x="3284" y="961" text-anchor="middle" font-family='"Liberation Sans", "Noto Sans CJK SC", sans-serif' font-size="24" fill="#c3c3c3">40000.0</text>
<rect x="3210" y="1062.1" width="9" height="2" fill="#cccccc"/>
<rect x="3349" y="1062.1" width="9" height="2" fill="#cccccc"/>
<text x="3284" y="1069.4" text-anchor="middle" font-family='"Liberation Sans", "Noto Sans CJK SC", sans-serif' font-size="24" fill="#c3c3c3">35000.0</text>
<rect x="3210" y="1171.4" width="9" height="2" fill="#cccccc"/>
<rect x="3349" y="1171.4" width="9" height="2" fill="#cccccc"/>
<text x="3284" y="1178.7" text-anchor="middle" font-family='"Liberation Sans", "Noto Sans CJK SC", sans-serif' font-size="24" fill="#c3c3c3">30000.0</text>
<rect x="3210" y="1314" width="9" height="2" fill="#cccccc"/>
<rect x="3349" y="1314" width="9" height="2" fill="#cccccc"/>
<text x="3284" y="1321.3" text-anchor="middle" font-family='"Liberation Sans", "Noto Sans CJK SC", sans-serif' font-size="24" fill="#c3c3c3">20000.00</text>
<rect x="3210" y="1374" width="9" height="2" fill="#cccccc"/>
<rect x="3349" y="1374" width="9" height="2" fill="#cccccc"/>
<text x="3284" y="1381.3" text-anchor="middle" font-family='"Liberation Sans", "Noto Sans CJK SC", sans-serif' font-size="24" fill="#c3c3c3">10000.00</text>
<rect x="3210" y="1524" width="9" height="2" fill="#cccccc"/>
<rect x="3349" y="1524" width="9" height="2" fill="#cccccc"/>
<text x="3284" y="1531.3" text-anchor="middle" font-family='"Liberation Sans", "Noto Sans CJK SC", sans-serif' font-size="24" fill="#c3c3c3">2208.86</text>
<rect x="3210" y="1565.8" width="9" height="2" fill="#cccccc"/>
<rect x="3349" y="1565.8" width="9" height="2" fill="#cccccc"/>
<text x="3284" y="1573.1" text-anchor="middle" font-family='"Liberation Sans", "Noto Sans CJK SC", sans-serif' font-size="24" fill="#c3c3c3">736.29</text>
<rect x="3210" y="1606" width="9" height="2" fill="#cccccc"/>
<rect x="3349" y="1606" width="9" height="2" fill="#cccccc"/>
<text x="3284" y="1613.3" text-anchor="middle" font-family='"Liberation Sans", "Noto Sans CJK SC", sans-serif' font-size="24" fill="#c3c3c3">-736.29</text>
<rect x="3210" y="1647.8" width="9" height="2" fill="#cccccc"/>
<rect x="3349" y="1647.8" width="9" height="2" fill="#cccccc"/>
<text x="3284" y="1655.1" text-anchor="middle" font-family='"Liberation Sans", "Noto Sans CJK SC", sans-serif' font-size="24" fill="#c3c3c3">-2208.86</text>
<rect x="253.9" y="1700" width="2" height="6" fill="#cccccc"/>
<text x="254.9" y="1727" text-anchor="middle" font-family='"Liberation Sans", "Noto Sans CJK SC", sans-serif' font-size="24" fill="#555555">1月27日</text>
<rect x="541.9" y="1700" width="2" height="6" fill="#cccccc"/>
<text x="542.9" y="1727" text-anchor="middle" font-family='"Liberation Sans", "Noto Sans CJK SC", sans-serif' font-size="24" fill="#555555">2月2日</text>
<rect x="829.9" y="1700" width="2" height="6" fill="#cccccc"/>
<text x="830.9" y="1727" text-anchor="middle" font-family='"Liberation Sans", "Noto Sans CJK SC", sans-serif' font-size="24" fill="#555555">2月8日</text>
<rect x="1117.9" y="1700" width="2" height="6" fill="#cccccc"/>
<text x="1118.9" y="1727" text-anchor="middle" font-family='"Liberation Sans", "Noto Sans CJK SC", sans-serif' font-size="24" fill="#555555">2月14日</text>
<rect x="1405.9" y="1700" width="2" height="6" fill="#cccccc"/>
<text x="1406.9" y="1727" text-anchor="middle" font-family='"Liberation Sans", "Noto Sans CJK SC", sans-serif' font-size="24" fill="#555555">2月20日</text>
<rect x="1693.9" y="1700" width="2" height="6" fill="#cccccc"/>
<text x="1694.9" y="1727" text-anchor="middle" font-family='"Liberation Sans", "Noto Sans CJK SC", sans-serif' font-size="24" fill="#555555">2月26日</text>
<rect x="1981.9" y="1700" width="2" height="6" fill="#cccccc"/>
<text x="1982.9" y="1727" text-anchor="middle" font-family='"Liberation Sans", "Noto Sans CJK SC", sans-serif' font-size="24" fill="#555555">3月4日</text>
<rect x="2269.9" y="1700" width="2" height="6" fill="#cccccc"/>
<text x="2270.9" y="1727" text-anchor="middle" font-family='"Liberation Sans", "Noto Sans CJK SC", sans-serif' font-size="24" fill="#555555">3月10日</text>
<rect x="2557.9" y="1700" width="2" height="6" fill="#cccccc"/>
<text x="2558.9" y="1727" text-anchor="middle" font-family='"Liberation Sans", "Noto Sans CJK SC", sans-serif' font-size="24" fill="#555555">3月16日</text>
<rect x="2845.9" y="1700" width="2" height="6" fill="#cccccc"/>
<text x="2846.9" y="1727" text-anchor="middle" font-family='"Liberation Sans", "Noto Sans CJK SC", sans-serif' font-size="24" fill="#555555">3月22日</text>
<rect x="3133.9" y="1700" width="2" height="6" fill="#cccccc"/>
<text x="3134.9" y="1727" text-anchor="middle" font-family='"Liberation Sans", "Noto Sans CJK SC", sans-serif' font-size="24" fill="#555555">3月28日</text>
<line x1="1359" y1="354.7" x2="1359" y2="1698" stroke="#6a6a6a" stroke-width="2" stroke-dasharray="10 10"/>
<line x1="4" y1="761" x2="3208" y2="761" stroke="#6a6a6a" stroke-width="2" stroke-dasharray="10 10"/>
<path d="M3357,602.6 H3216 V615.3 L3209,622.8 L3216,630.3 V643 H3357 Z" fill="#ffffff" stroke="#df6e66" stroke-width="2"/>
<text x="3284" y="633" text-anchor="middle" font-family='"Liberation Sans", "Noto Sans CJK SC", sans-serif' font-size="24" fill="#df6e66">55246.4</text>
<path d="M3357,1397.7 H3216 V1409.7 L3209,1417.2 L3216,1424.7 V1436.6 H3357 Z" fill="#ffffff" stroke="#df6e66" stroke-width="2"/>
<text x="3284" y="1427.4" text-anchor="middle" font-family='"Liberation Sans", "Noto Sans CJK SC", sans-serif' font-size="24" fill="#df6e66">2880.73</text>
<path d="M3357,740.7 H3216 V753.4 L3209,760.9 L3216,768.4 V781 H3357 Z" fill="#263148" stroke="#263148" stroke-width="2"/>
<text x="3284" y="771.1" text-anchor="middle" font-family='"Liberation Sans", "Noto Sans CJK SC", sans-serif' font-size="24" fill="#ffffff">48874.1</text>
<path d="M1277,1706 H1350.5 L1359,1698 L1367.5,1706 H1440.5 V1742 H1277 Z" fill="#263148"/>
<text x="1357.6" y="1733" text-anchor="middle" font-family='"Liberation Sans", "Noto Sans CJK SC", sans-serif' font-size="24" fill="#ffffff">2月19日 0:00</text>
<text x="2345.5" y="485" font-family='"Liberation Sans", "Noto Sans CJK SC", sans-serif' font-size="24" fill="#4a4a4a" textLength="85.5" lengthAdjust="spacingAndGlyphs">61829.0</text>
<path d="M2441,479.2 H2454.5 M2449.5,474.2 L2455,479.2 L2449.5,484.2" fill="none" stroke="#4a4a4a" stroke-width="2"/>
<text x="308.5" y="1194.5" font-family='"Liberation Sans", "Noto Sans CJK SC", sans-serif' font-size="24" fill="#4a4a4a" textLength="84.7" lengthAdjust="spacingAndGlyphs">29230.5</text>
<path d="M301,1188.6 H287.5 M292.5,1183.6 L287,1188.6 L292.5,1193.6" fill="none" stroke="#4a4a4a" stroke-width="2"/>
<text x="8.4" y="1238.5" font-family='"Liberation Sans", "Noto Sans CJK SC", sans-serif' font-size="23" fill="#555555" textLength="162.5" lengthAdjust="spacingAndGlyphs">VOLUME(5,10)</text>
<text x="186.6" y="1238.5" font-family='"Liberation Sans", "Noto Sans CJK SC", sans-serif' font-size="23" fill="#c9517c" textLength="146.7" lengthAdjust="spacingAndGlyphs">MA5: 5801.48</text>
<text x="349.7" y="1238.5" font-family='"Liberation Sans", "Noto Sans CJK SC", sans-serif' font-size="23" fill="#e3b046" textLength="159.7" lengthAdjust="spacingAndGlyphs">MA10: 5712.25</text>
<text x="8.8" y="1466.8" font-family='"Liberation Sans", "Noto Sans CJK SC", sans-serif' font-size="23" fill="#555555" textLength="165.2" lengthAdjust="spacingAndGlyphs">MACD(12,26,9)</text>
<text x="189.3" y="1466.8" font-family='"Liberation Sans", "Noto Sans CJK SC", sans-serif' font-size="23" fill="#c9517c" textLength="136.1" lengthAdjust="spacingAndGlyphs">DIF: 2941.20</text>
<text x="341.3" y="1466.8" font-family='"Liberation Sans", "Noto Sans CJK SC", sans-serif' font-size="23" fill="#e3b046" textLength="143.4" lengthAdjust="spacingAndGlyphs">DEA: 2948.11</text>
</svg>

<!-- info box -->
<div id="info">
  <div class="ir" style="top:6px">时间<span>2021-02-19 00:00</span></div>
  <div class="ir" style="top:42px">开<span>51569.7</span></div>
  <div class="ir" style="top:78px">高<span>52199.6</span></div>
  <div class="ir" style="top:114px">低<span>50706.0</span></div>
  <div class="ir" style="top:150px">收<span>51244.3</span></div>
  <div class="ir" style="top:186px">涨幅<span style="color:#e8706a">-0.63%</span></div>
  <div class="ir" style="top:222px">振幅<span>2.90%</span></div>
  <div class="ir" style="top:258px">成交量<span>2934.80</span></div>
  <div class="ir" style="top:294px;color:#d8507f">BOLL<span>48267.4</span></div>
  <div class="ir" style="top:330px;color:#e9bd3e">UB<span>52327.5</span></div>
  <div class="ir" style="top:366px;color:#c057dc">LB<span>44207.3</span></div>
</div>

<!-- info button -->
<svg class="a" style="left:32px;top:1620px" width="80" height="80" viewBox="0 0 80 80">
  <circle cx="40" cy="40" r="39.5" fill="#3267e3"/>
  <circle cx="40" cy="40" r="22" fill="none" stroke="#fff" stroke-width="3.5"/>
  <circle cx="40" cy="29" r="2.8" fill="#fff"/>
  <rect x="38.2" y="35" width="3.6" height="17" fill="#fff"/>
</svg>

<!-- bottom desktop / dock strip -->
<div class="a" style="left:0;top:1650px;width:3358px;height:82px;background:linear-gradient(90deg,rgba(0,0,0,0) 0,rgba(0,0,0,0) 700px,rgba(0,0,0,0.045) 1100px,rgba(0,0,0,0.05) 2300px,rgba(0,0,0,0.0) 2750px);-webkit-mask-image:linear-gradient(180deg,transparent 0,#000 70%);mask-image:linear-gradient(180deg,transparent 0,#000 70%)"></div>
<div class="a" style="left:0;top:1731px;width:3358px;height:11px;background:linear-gradient(90deg,#171414 0,#201b1a 690px,#2b2220 2665px,#3a2a22 2760px,#232024 3000px,#1c1b20 3358px)"></div>
<div class="a" style="left:0;top:1719px;width:12px;height:12px;background:radial-gradient(circle at 100% 0,rgba(0,0,0,0) 11.5px,#1d1a1c 12.5px)"></div>
<div class="a" style="left:3346px;top:1719px;width:12px;height:12px;background:radial-gradient(circle at 0 0,rgba(0,0,0,0) 11.5px,#1d1a1c 12.5px)"></div>
<div class="a" style="left:690px;top:1731px;width:1975px;height:11px;border-radius:10px 10px 0 0;background:linear-gradient(90deg,#5a5250 0,#575558 960px,#5f5f69 1310px,#6f6a78 1610px,#b27260 1700px,#d6774c 1760px,#d8774c 1975px)"></div>
</body>
</html>
